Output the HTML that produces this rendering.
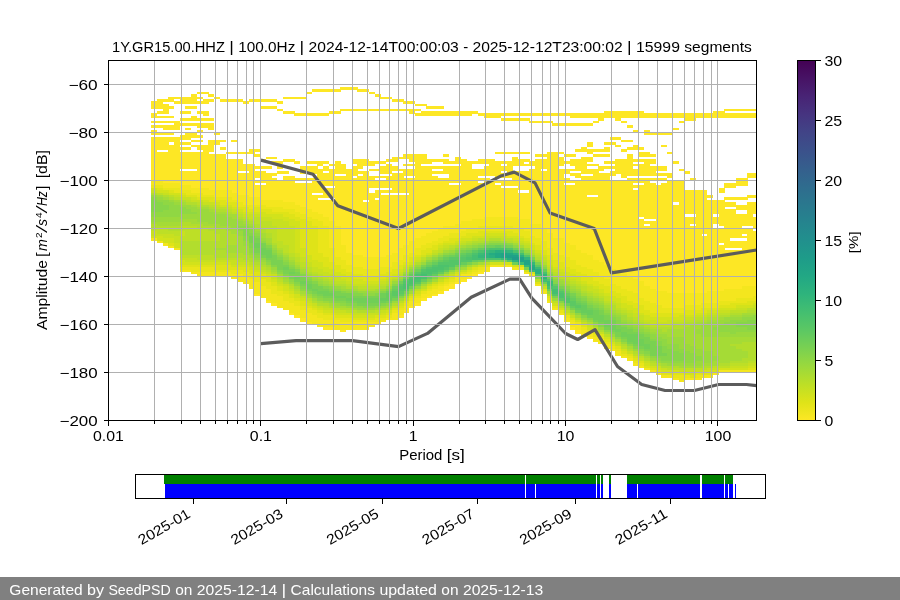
<!DOCTYPE html>
<html><head><meta charset="utf-8"><title>PPSD</title><style>html,body{margin:0;padding:0;background:#fff;overflow:hidden}svg{display:block;will-change:transform}</style></head><body>
<svg width="900" height="600" viewBox="0 0 900 600" font-family="Liberation Sans, sans-serif" font-size="14.2px" fill="#000">
<rect width="900" height="600" fill="#fff"/>
<defs><clipPath id="ax"><rect x="108.5" y="60.5" width="648" height="360"/></clipPath></defs>
<g clip-path="url(#ax)">
<g shape-rendering="crispEdges"><path fill="#fde725" d="M151.0 101.3h6.0v7.4h-6.0zM151.0 113.3h6.0v5.0h-6.0zM151.0 120.5h6.0v2.6h-6.0zM151.0 125.3h6.0v2.6h-6.0zM151.0 130.1h6.0v5.0h-6.0zM151.0 137.3h6.0v43.4h-6.0zM156.7 98.9h6.0v9.8h-6.0zM156.7 110.9h6.0v2.6h-6.0zM156.7 115.7h6.0v2.6h-6.0zM156.7 120.5h6.0v2.6h-6.0zM156.7 125.3h6.0v2.6h-6.0zM156.7 132.5h6.0v2.6h-6.0zM156.7 137.3h6.0v12.2h-6.0zM156.7 151.7h6.0v29.0h-6.0zM162.5 98.9h6.0v2.6h-6.0zM162.5 103.7h6.0v9.8h-6.0zM162.5 115.7h6.0v2.6h-6.0zM162.5 120.5h6.0v2.6h-6.0zM162.5 125.3h6.0v5.0h-6.0zM162.5 132.5h6.0v2.6h-6.0zM162.5 137.3h6.0v12.2h-6.0zM162.5 151.7h6.0v31.4h-6.0zM168.2 96.5h6.0v5.0h-6.0zM168.2 106.1h6.0v2.6h-6.0zM168.2 115.7h6.0v2.6h-6.0zM168.2 120.5h6.0v2.6h-6.0zM168.2 125.3h6.0v5.0h-6.0zM168.2 132.5h6.0v2.6h-6.0zM168.2 137.3h6.0v5.0h-6.0zM168.2 144.5h6.0v38.6h-6.0zM173.9 96.5h6.0v2.6h-6.0zM173.9 101.3h6.0v2.6h-6.0zM173.9 120.5h6.0v9.8h-6.0zM173.9 137.3h6.0v45.9h-6.0zM179.7 96.5h6.0v7.4h-6.0zM179.7 110.9h6.0v2.6h-6.0zM179.7 118.1h6.0v2.6h-6.0zM179.7 122.9h6.0v2.6h-6.0zM179.7 134.9h6.0v5.0h-6.0zM179.7 142.1h6.0v2.6h-6.0zM179.7 146.9h6.0v2.6h-6.0zM179.7 151.7h6.0v17.1h-6.0zM179.7 170.9h6.0v14.6h-6.0zM185.4 96.5h6.0v7.4h-6.0zM185.4 106.1h6.0v2.6h-6.0zM185.4 110.9h6.0v2.6h-6.0zM185.4 118.1h6.0v2.6h-6.0zM185.4 122.9h6.0v2.6h-6.0zM185.4 127.7h6.0v2.6h-6.0zM185.4 132.5h6.0v7.4h-6.0zM185.4 142.1h6.0v2.6h-6.0zM185.4 146.9h6.0v2.6h-6.0zM185.4 151.7h6.0v17.1h-6.0zM185.4 170.9h6.0v14.6h-6.0zM191.1 94.1h6.0v9.8h-6.0zM191.1 106.1h6.0v2.6h-6.0zM191.1 115.7h6.0v5.0h-6.0zM191.1 122.9h6.0v2.6h-6.0zM191.1 132.5h6.0v5.0h-6.0zM191.1 139.7h6.0v2.6h-6.0zM191.1 144.5h6.0v2.6h-6.0zM191.1 151.7h6.0v17.1h-6.0zM191.1 170.9h6.0v17.1h-6.0zM196.9 91.7h6.0v2.6h-6.0zM196.9 96.5h6.0v2.6h-6.0zM196.9 101.3h6.0v2.6h-6.0zM196.9 110.9h6.0v2.6h-6.0zM196.9 118.1h6.0v2.6h-6.0zM196.9 122.9h6.0v5.0h-6.0zM196.9 130.1h6.0v2.6h-6.0zM196.9 134.9h6.0v2.6h-6.0zM196.9 139.7h6.0v2.6h-6.0zM196.9 144.5h6.0v5.0h-6.0zM196.9 151.7h6.0v36.2h-6.0zM202.6 91.7h6.0v2.6h-6.0zM202.6 98.9h6.0v5.0h-6.0zM202.6 110.9h6.0v5.0h-6.0zM202.6 118.1h6.0v2.6h-6.0zM202.6 122.9h6.0v5.0h-6.0zM202.6 144.5h6.0v43.4h-6.0zM208.3 94.1h6.0v2.6h-6.0zM208.3 98.9h6.0v2.6h-6.0zM208.3 118.1h6.0v2.6h-6.0zM208.3 122.9h6.0v7.4h-6.0zM208.3 139.7h6.0v12.2h-6.0zM208.3 154.1h6.0v36.2h-6.0zM214.1 96.5h6.0v2.6h-6.0zM214.1 132.5h6.0v2.6h-6.0zM214.1 139.7h6.0v5.0h-6.0zM214.1 154.1h6.0v36.2h-6.0zM219.8 98.9h6.0v2.6h-6.0zM219.8 139.7h6.0v2.6h-6.0zM219.8 146.9h6.0v2.6h-6.0zM219.8 154.1h6.0v36.2h-6.0zM225.5 98.9h6.0v2.6h-6.0zM225.5 151.7h6.0v2.6h-6.0zM225.5 158.9h6.0v31.4h-6.0zM231.3 98.9h6.0v2.6h-6.0zM231.3 139.7h6.0v2.6h-6.0zM231.3 151.7h6.0v2.6h-6.0zM231.3 158.9h6.0v33.9h-6.0zM237.0 98.9h6.0v2.6h-6.0zM237.0 151.7h6.0v2.6h-6.0zM237.0 158.9h6.0v12.2h-6.0zM237.0 173.3h6.0v21.8h-6.0zM242.7 101.3h6.0v2.6h-6.0zM242.7 151.7h6.0v2.6h-6.0zM242.7 163.7h6.0v7.4h-6.0zM242.7 173.3h6.0v21.8h-6.0zM248.5 98.9h6.0v2.6h-6.0zM248.5 149.3h6.0v5.0h-6.0zM248.5 163.7h6.0v33.9h-6.0zM254.2 98.9h6.0v2.6h-6.0zM254.2 149.3h6.0v2.6h-6.0zM254.2 154.1h6.0v2.6h-6.0zM254.2 166.1h6.0v2.6h-6.0zM254.2 170.9h6.0v7.4h-6.0zM254.2 180.5h6.0v2.6h-6.0zM254.2 185.3h6.0v12.2h-6.0zM254.2 293.3h6.0v2.6h-6.0zM259.9 98.9h6.0v2.6h-6.0zM259.9 106.1h6.0v2.6h-6.0zM259.9 158.9h6.0v2.6h-6.0zM259.9 166.1h6.0v2.6h-6.0zM259.9 170.9h6.0v12.2h-6.0zM259.9 185.3h6.0v14.6h-6.0zM265.7 98.9h6.0v2.6h-6.0zM265.7 106.1h6.0v2.6h-6.0zM265.7 156.5h6.0v2.6h-6.0zM265.7 166.1h6.0v2.6h-6.0zM265.7 173.3h6.0v26.6h-6.0zM265.7 300.5h6.0v2.6h-6.0zM271.4 98.9h6.0v2.6h-6.0zM271.4 106.1h6.0v2.6h-6.0zM271.4 156.5h6.0v2.6h-6.0zM271.4 161.3h6.0v2.6h-6.0zM271.4 173.3h6.0v2.6h-6.0zM271.4 178.1h6.0v21.8h-6.0zM271.4 302.9h6.0v2.6h-6.0zM277.1 101.3h6.0v2.6h-6.0zM277.1 108.5h6.0v2.6h-6.0zM277.1 161.3h6.0v2.6h-6.0zM277.1 166.1h6.0v2.6h-6.0zM277.1 170.9h6.0v2.6h-6.0zM277.1 180.5h6.0v19.4h-6.0zM282.9 96.5h6.0v2.6h-6.0zM282.9 110.9h6.0v2.6h-6.0zM282.9 158.9h6.0v2.6h-6.0zM282.9 170.9h6.0v2.6h-6.0zM282.9 175.7h6.0v26.6h-6.0zM288.6 96.5h6.0v2.6h-6.0zM288.6 110.9h6.0v2.6h-6.0zM288.6 158.9h6.0v2.6h-6.0zM288.6 175.7h6.0v26.6h-6.0zM288.6 312.5h6.0v2.6h-6.0zM294.3 96.5h6.0v2.6h-6.0zM294.3 113.3h6.0v2.6h-6.0zM294.3 161.3h6.0v2.6h-6.0zM294.3 178.1h6.0v2.6h-6.0zM294.3 182.9h6.0v21.8h-6.0zM294.3 314.9h6.0v2.6h-6.0zM300.1 96.5h6.0v2.6h-6.0zM300.1 113.3h6.0v2.6h-6.0zM300.1 166.1h6.0v7.4h-6.0zM300.1 178.1h6.0v2.6h-6.0zM300.1 182.9h6.0v24.2h-6.0zM300.1 317.3h6.0v5.0h-6.0zM305.8 91.7h6.0v2.6h-6.0zM305.8 113.3h6.0v2.6h-6.0zM305.8 161.3h6.0v2.6h-6.0zM305.8 166.1h6.0v7.4h-6.0zM305.8 178.1h6.0v2.6h-6.0zM305.8 182.9h6.0v26.6h-6.0zM305.8 322.1h6.0v2.6h-6.0zM311.5 89.3h6.0v2.6h-6.0zM311.5 113.3h6.0v2.6h-6.0zM311.5 161.3h6.0v2.6h-6.0zM311.5 166.1h6.0v7.4h-6.0zM311.5 178.1h6.0v14.6h-6.0zM311.5 194.9h6.0v17.1h-6.0zM317.3 89.3h6.0v2.6h-6.0zM317.3 113.3h6.0v2.6h-6.0zM317.3 161.3h6.0v5.0h-6.0zM317.3 168.5h6.0v24.2h-6.0zM317.3 194.9h6.0v2.6h-6.0zM317.3 199.7h6.0v14.6h-6.0zM323.0 89.3h6.0v2.6h-6.0zM323.0 113.3h6.0v2.6h-6.0zM323.0 161.3h6.0v2.6h-6.0zM323.0 166.1h6.0v5.0h-6.0zM323.0 173.3h6.0v12.2h-6.0zM323.0 187.7h6.0v9.8h-6.0zM323.0 199.7h6.0v17.1h-6.0zM323.0 326.9h6.0v2.6h-6.0zM328.7 89.3h6.0v2.6h-6.0zM328.7 110.9h6.0v2.6h-6.0zM328.7 163.7h6.0v2.6h-6.0zM328.7 168.5h6.0v17.1h-6.0zM328.7 187.7h6.0v9.8h-6.0zM328.7 199.7h6.0v21.8h-6.0zM328.7 326.9h6.0v2.6h-6.0zM334.5 89.3h6.0v2.6h-6.0zM334.5 110.9h6.0v2.6h-6.0zM334.5 161.3h6.0v12.2h-6.0zM334.5 175.7h6.0v50.6h-6.0zM340.2 86.9h6.0v2.6h-6.0zM340.2 108.5h6.0v2.6h-6.0zM340.2 163.7h6.0v9.8h-6.0zM340.2 175.7h6.0v69.8h-6.0zM340.2 329.3h6.0v2.6h-6.0zM345.9 86.9h6.0v2.6h-6.0zM345.9 108.5h6.0v2.6h-6.0zM345.9 168.5h6.0v84.2h-6.0zM351.7 86.9h6.0v2.6h-6.0zM351.7 108.5h6.0v2.6h-6.0zM351.7 158.9h6.0v5.0h-6.0zM351.7 166.1h6.0v9.8h-6.0zM351.7 178.1h6.0v77.0h-6.0zM357.4 89.3h6.0v2.6h-6.0zM357.4 108.5h6.0v2.6h-6.0zM357.4 158.9h6.0v9.8h-6.0zM357.4 170.9h6.0v2.6h-6.0zM357.4 175.7h6.0v79.5h-6.0zM363.1 89.3h6.0v2.6h-6.0zM363.1 108.5h6.0v2.6h-6.0zM363.1 158.9h6.0v7.4h-6.0zM363.1 170.9h6.0v29.0h-6.0zM363.1 202.1h6.0v55.4h-6.0zM368.9 91.7h6.0v2.6h-6.0zM368.9 108.5h6.0v2.6h-6.0zM368.9 161.3h6.0v5.0h-6.0zM368.9 168.5h6.0v2.6h-6.0zM368.9 175.7h6.0v12.2h-6.0zM368.9 192.5h6.0v65.0h-6.0zM374.6 94.1h6.0v2.6h-6.0zM374.6 108.5h6.0v2.6h-6.0zM374.6 161.3h6.0v2.6h-6.0zM374.6 168.5h6.0v2.6h-6.0zM374.6 175.7h6.0v2.6h-6.0zM374.6 180.5h6.0v7.4h-6.0zM374.6 190.1h6.0v7.4h-6.0zM374.6 199.7h6.0v57.8h-6.0zM380.3 96.5h6.0v2.6h-6.0zM380.3 108.5h6.0v2.6h-6.0zM380.3 161.3h6.0v2.6h-6.0zM380.3 166.1h6.0v7.4h-6.0zM380.3 175.7h6.0v2.6h-6.0zM380.3 180.5h6.0v7.4h-6.0zM380.3 190.1h6.0v2.6h-6.0zM380.3 194.9h6.0v62.6h-6.0zM386.1 96.5h6.0v2.6h-6.0zM386.1 108.5h6.0v2.6h-6.0zM386.1 158.9h6.0v2.6h-6.0zM386.1 163.7h6.0v9.8h-6.0zM386.1 175.7h6.0v12.2h-6.0zM386.1 190.1h6.0v2.6h-6.0zM386.1 194.9h6.0v60.2h-6.0zM391.8 98.9h6.0v2.6h-6.0zM391.8 108.5h6.0v2.6h-6.0zM391.8 156.5h6.0v5.0h-6.0zM391.8 166.1h6.0v5.0h-6.0zM391.8 173.3h6.0v19.4h-6.0zM391.8 194.9h6.0v57.8h-6.0zM397.5 98.9h6.0v2.6h-6.0zM397.5 108.5h6.0v2.6h-6.0zM397.5 156.5h6.0v2.6h-6.0zM397.5 168.5h6.0v2.6h-6.0zM397.5 173.3h6.0v19.4h-6.0zM397.5 194.9h6.0v53.0h-6.0zM397.5 314.9h6.0v2.6h-6.0zM403.3 101.3h6.0v2.6h-6.0zM403.3 108.5h6.0v2.6h-6.0zM403.3 154.1h6.0v5.0h-6.0zM403.3 163.7h6.0v2.6h-6.0zM403.3 168.5h6.0v7.4h-6.0zM403.3 178.1h6.0v14.6h-6.0zM403.3 194.9h6.0v50.6h-6.0zM403.3 310.1h6.0v2.6h-6.0zM409.0 101.3h6.0v2.6h-6.0zM409.0 108.5h6.0v5.0h-6.0zM409.0 154.1h6.0v7.4h-6.0zM409.0 163.7h6.0v2.6h-6.0zM409.0 168.5h6.0v7.4h-6.0zM409.0 178.1h6.0v62.6h-6.0zM409.0 305.3h6.0v2.6h-6.0zM414.7 103.7h6.0v2.6h-6.0zM414.7 108.5h6.0v2.6h-6.0zM414.7 113.3h6.0v2.6h-6.0zM414.7 154.1h6.0v84.2h-6.0zM414.7 302.9h6.0v2.6h-6.0zM420.5 103.7h6.0v2.6h-6.0zM420.5 110.9h6.0v5.0h-6.0zM420.5 154.1h6.0v9.8h-6.0zM420.5 166.1h6.0v69.8h-6.0zM420.5 298.1h6.0v2.6h-6.0zM426.2 106.1h6.0v2.6h-6.0zM426.2 110.9h6.0v5.0h-6.0zM426.2 158.9h6.0v5.0h-6.0zM426.2 166.1h6.0v67.5h-6.0zM426.2 295.7h6.0v2.6h-6.0zM431.9 106.1h6.0v2.6h-6.0zM431.9 110.9h6.0v5.0h-6.0zM431.9 158.9h6.0v2.6h-6.0zM431.9 166.1h6.0v2.6h-6.0zM431.9 170.9h6.0v2.6h-6.0zM431.9 175.7h6.0v55.4h-6.0zM431.9 293.3h6.0v2.6h-6.0zM437.7 106.1h6.0v2.6h-6.0zM437.7 110.9h6.0v5.0h-6.0zM437.7 158.9h6.0v2.6h-6.0zM437.7 166.1h6.0v2.6h-6.0zM437.7 170.9h6.0v2.6h-6.0zM437.7 178.1h6.0v50.6h-6.0zM437.7 290.9h6.0v2.6h-6.0zM443.4 110.9h6.0v5.0h-6.0zM443.4 154.1h6.0v2.6h-6.0zM443.4 158.9h6.0v5.0h-6.0zM443.4 166.1h6.0v7.4h-6.0zM443.4 178.1h6.0v48.2h-6.0zM443.4 286.1h6.0v5.0h-6.0zM449.1 110.9h6.0v5.0h-6.0zM449.1 161.3h6.0v2.6h-6.0zM449.1 166.1h6.0v17.1h-6.0zM449.1 185.3h6.0v41.0h-6.0zM449.1 283.7h6.0v5.0h-6.0zM454.9 110.9h6.0v5.0h-6.0zM454.9 156.5h6.0v7.4h-6.0zM454.9 166.1h6.0v17.1h-6.0zM454.9 185.3h6.0v38.6h-6.0zM454.9 281.3h6.0v2.6h-6.0zM460.6 110.9h6.0v5.0h-6.0zM460.6 158.9h6.0v62.6h-6.0zM460.6 278.9h6.0v2.6h-6.0zM466.3 110.9h6.0v5.0h-6.0zM466.3 161.3h6.0v60.2h-6.0zM466.3 276.5h6.0v2.6h-6.0zM472.1 110.9h6.0v2.6h-6.0zM472.1 161.3h6.0v2.6h-6.0zM472.1 168.5h6.0v50.6h-6.0zM472.1 274.1h6.0v2.6h-6.0zM477.8 113.3h6.0v2.6h-6.0zM477.8 158.9h6.0v5.0h-6.0zM477.8 168.5h6.0v7.4h-6.0zM477.8 178.1h6.0v2.6h-6.0zM477.8 182.9h6.0v36.2h-6.0zM477.8 271.7h6.0v2.6h-6.0zM483.5 113.3h6.0v5.0h-6.0zM483.5 158.9h6.0v5.0h-6.0zM483.5 166.1h6.0v9.8h-6.0zM483.5 178.1h6.0v38.6h-6.0zM489.3 113.3h6.0v5.0h-6.0zM489.3 158.9h6.0v17.1h-6.0zM489.3 180.5h6.0v36.2h-6.0zM495.0 113.3h6.0v5.0h-6.0zM495.0 151.7h6.0v2.6h-6.0zM495.0 161.3h6.0v17.1h-6.0zM495.0 180.5h6.0v2.6h-6.0zM495.0 185.3h6.0v31.4h-6.0zM500.7 113.3h6.0v2.6h-6.0zM500.7 118.1h6.0v2.6h-6.0zM500.7 151.7h6.0v2.6h-6.0zM500.7 161.3h6.0v2.6h-6.0zM500.7 166.1h6.0v5.0h-6.0zM500.7 173.3h6.0v5.0h-6.0zM500.7 180.5h6.0v5.0h-6.0zM500.7 187.7h6.0v29.0h-6.0zM506.5 113.3h6.0v2.6h-6.0zM506.5 118.1h6.0v2.6h-6.0zM506.5 151.7h6.0v2.6h-6.0zM506.5 161.3h6.0v17.1h-6.0zM506.5 180.5h6.0v5.0h-6.0zM506.5 187.7h6.0v29.0h-6.0zM512.2 113.3h6.0v2.6h-6.0zM512.2 118.1h6.0v2.6h-6.0zM512.2 151.7h6.0v2.6h-6.0zM512.2 156.5h6.0v9.8h-6.0zM512.2 170.9h6.0v14.6h-6.0zM512.2 187.7h6.0v29.0h-6.0zM517.9 113.3h6.0v2.6h-6.0zM517.9 118.1h6.0v2.6h-6.0zM517.9 151.7h6.0v2.6h-6.0zM517.9 158.9h6.0v7.4h-6.0zM517.9 170.9h6.0v19.4h-6.0zM517.9 192.5h6.0v26.6h-6.0zM523.7 113.3h6.0v2.6h-6.0zM523.7 118.1h6.0v2.6h-6.0zM523.7 151.7h6.0v2.6h-6.0zM523.7 158.9h6.0v2.6h-6.0zM523.7 163.7h6.0v2.6h-6.0zM523.7 170.9h6.0v19.4h-6.0zM523.7 192.5h6.0v26.6h-6.0zM529.4 113.3h6.0v2.6h-6.0zM529.4 120.5h6.0v2.6h-6.0zM529.4 161.3h6.0v5.0h-6.0zM529.4 168.5h6.0v55.4h-6.0zM535.1 113.3h6.0v2.6h-6.0zM535.1 120.5h6.0v2.6h-6.0zM535.1 154.1h6.0v2.6h-6.0zM535.1 158.9h6.0v65.0h-6.0zM540.9 113.3h6.0v2.6h-6.0zM540.9 120.5h6.0v2.6h-6.0zM540.9 154.1h6.0v2.6h-6.0zM540.9 158.9h6.0v9.8h-6.0zM540.9 170.9h6.0v57.8h-6.0zM546.6 113.3h6.0v2.6h-6.0zM546.6 120.5h6.0v2.6h-6.0zM546.6 151.7h6.0v81.8h-6.0zM552.3 113.3h6.0v2.6h-6.0zM552.3 122.9h6.0v2.6h-6.0zM552.3 151.7h6.0v86.6h-6.0zM558.1 113.3h6.0v2.6h-6.0zM558.1 122.9h6.0v2.6h-6.0zM558.1 151.7h6.0v2.6h-6.0zM558.1 156.5h6.0v9.8h-6.0zM558.1 168.5h6.0v69.8h-6.0zM563.8 113.3h6.0v2.6h-6.0zM563.8 122.9h6.0v2.6h-6.0zM563.8 154.1h6.0v2.6h-6.0zM563.8 161.3h6.0v2.6h-6.0zM563.8 168.5h6.0v5.0h-6.0zM563.8 178.1h6.0v5.0h-6.0zM563.8 185.3h6.0v57.8h-6.0zM569.5 113.3h6.0v5.0h-6.0zM569.5 122.9h6.0v2.6h-6.0zM569.5 154.1h6.0v2.6h-6.0zM569.5 158.9h6.0v7.4h-6.0zM569.5 168.5h6.0v2.6h-6.0zM569.5 173.3h6.0v2.6h-6.0zM569.5 180.5h6.0v2.6h-6.0zM569.5 185.3h6.0v60.2h-6.0zM569.5 326.9h6.0v2.6h-6.0zM575.3 113.3h6.0v5.0h-6.0zM575.3 122.9h6.0v2.6h-6.0zM575.3 149.3h6.0v2.6h-6.0zM575.3 158.9h6.0v12.2h-6.0zM575.3 173.3h6.0v5.0h-6.0zM575.3 180.5h6.0v69.8h-6.0zM575.3 329.3h6.0v5.0h-6.0zM581.0 113.3h6.0v5.0h-6.0zM581.0 122.9h6.0v2.6h-6.0zM581.0 146.9h6.0v5.0h-6.0zM581.0 156.5h6.0v17.1h-6.0zM581.0 175.7h6.0v77.0h-6.0zM581.0 334.1h6.0v2.6h-6.0zM586.7 113.3h6.0v5.0h-6.0zM586.7 122.9h6.0v2.6h-6.0zM586.7 142.1h6.0v5.0h-6.0zM586.7 149.3h6.0v5.0h-6.0zM586.7 156.5h6.0v5.0h-6.0zM586.7 163.7h6.0v2.6h-6.0zM586.7 168.5h6.0v5.0h-6.0zM586.7 175.7h6.0v19.4h-6.0zM586.7 197.3h6.0v57.8h-6.0zM586.7 336.5h6.0v2.6h-6.0zM592.5 113.3h6.0v5.0h-6.0zM592.5 120.5h6.0v2.6h-6.0zM592.5 149.3h6.0v2.6h-6.0zM592.5 154.1h6.0v2.6h-6.0zM592.5 163.7h6.0v2.6h-6.0zM592.5 168.5h6.0v26.6h-6.0zM592.5 197.3h6.0v62.6h-6.0zM598.2 113.3h6.0v7.4h-6.0zM598.2 149.3h6.0v2.6h-6.0zM598.2 154.1h6.0v2.6h-6.0zM598.2 166.1h6.0v5.0h-6.0zM598.2 173.3h6.0v89.0h-6.0zM603.9 110.9h6.0v7.4h-6.0zM603.9 142.1h6.0v2.6h-6.0zM603.9 146.9h6.0v5.0h-6.0zM603.9 154.1h6.0v2.6h-6.0zM603.9 161.3h6.0v2.6h-6.0zM603.9 166.1h6.0v2.6h-6.0zM603.9 173.3h6.0v91.5h-6.0zM609.7 110.9h6.0v7.4h-6.0zM609.7 137.3h6.0v2.6h-6.0zM609.7 142.1h6.0v2.6h-6.0zM609.7 161.3h6.0v2.6h-6.0zM609.7 166.1h6.0v2.6h-6.0zM609.7 170.9h6.0v5.0h-6.0zM609.7 180.5h6.0v89.0h-6.0zM615.4 110.9h6.0v9.8h-6.0zM615.4 137.3h6.0v2.6h-6.0zM615.4 144.5h6.0v2.6h-6.0zM615.4 158.9h6.0v14.6h-6.0zM615.4 180.5h6.0v91.5h-6.0zM621.1 110.9h6.0v7.4h-6.0zM621.1 120.5h6.0v2.6h-6.0zM621.1 139.7h6.0v2.6h-6.0zM621.1 149.3h6.0v2.6h-6.0zM621.1 158.9h6.0v19.4h-6.0zM621.1 180.5h6.0v93.8h-6.0zM626.9 110.9h6.0v7.4h-6.0zM626.9 125.3h6.0v2.6h-6.0zM626.9 139.7h6.0v2.6h-6.0zM626.9 146.9h6.0v2.6h-6.0zM626.9 154.1h6.0v21.8h-6.0zM626.9 178.1h6.0v98.6h-6.0zM632.6 110.9h6.0v7.4h-6.0zM632.6 130.1h6.0v2.6h-6.0zM632.6 144.5h6.0v5.0h-6.0zM632.6 158.9h6.0v2.6h-6.0zM632.6 163.7h6.0v2.6h-6.0zM632.6 168.5h6.0v7.4h-6.0zM632.6 178.1h6.0v5.0h-6.0zM632.6 185.3h6.0v2.6h-6.0zM632.6 190.1h6.0v89.0h-6.0zM638.3 110.9h6.0v7.4h-6.0zM638.3 146.9h6.0v2.6h-6.0zM638.3 151.7h6.0v5.0h-6.0zM638.3 158.9h6.0v2.6h-6.0zM638.3 163.7h6.0v12.2h-6.0zM638.3 178.1h6.0v5.0h-6.0zM638.3 185.3h6.0v31.4h-6.0zM638.3 218.9h6.0v62.6h-6.0zM644.1 113.3h6.0v5.0h-6.0zM644.1 130.1h6.0v5.0h-6.0zM644.1 151.7h6.0v5.0h-6.0zM644.1 158.9h6.0v17.1h-6.0zM644.1 178.1h6.0v41.0h-6.0zM644.1 221.3h6.0v2.6h-6.0zM644.1 226.1h6.0v60.2h-6.0zM649.8 113.3h6.0v5.0h-6.0zM649.8 132.5h6.0v2.6h-6.0zM649.8 154.1h6.0v2.6h-6.0zM649.8 158.9h6.0v5.0h-6.0zM649.8 166.1h6.0v9.8h-6.0zM649.8 178.1h6.0v2.6h-6.0zM649.8 182.9h6.0v36.2h-6.0zM649.8 221.3h6.0v67.5h-6.0zM655.5 113.3h6.0v5.0h-6.0zM655.5 132.5h6.0v2.6h-6.0zM655.5 166.1h6.0v5.0h-6.0zM655.5 173.3h6.0v2.6h-6.0zM655.5 178.1h6.0v2.6h-6.0zM655.5 185.3h6.0v105.8h-6.0zM661.3 113.3h6.0v5.0h-6.0zM661.3 132.5h6.0v2.6h-6.0zM661.3 144.5h6.0v2.6h-6.0zM661.3 166.1h6.0v5.0h-6.0zM661.3 173.3h6.0v2.6h-6.0zM661.3 178.1h6.0v2.6h-6.0zM661.3 182.9h6.0v108.2h-6.0zM667.0 113.3h6.0v5.0h-6.0zM667.0 132.5h6.0v2.6h-6.0zM667.0 151.7h6.0v2.6h-6.0zM667.0 173.3h6.0v5.0h-6.0zM667.0 180.5h6.0v113.0h-6.0zM672.7 113.3h6.0v5.0h-6.0zM672.7 127.7h6.0v2.6h-6.0zM672.7 161.3h6.0v2.6h-6.0zM672.7 180.5h6.0v21.8h-6.0zM672.7 204.5h6.0v89.0h-6.0zM678.5 113.3h6.0v5.0h-6.0zM678.5 120.5h6.0v2.6h-6.0zM678.5 168.5h6.0v2.6h-6.0zM678.5 180.5h6.0v113.0h-6.0zM684.2 113.3h6.0v7.4h-6.0zM684.2 170.9h6.0v2.6h-6.0zM684.2 190.1h6.0v24.2h-6.0zM684.2 216.5h6.0v77.0h-6.0zM689.9 113.3h6.0v7.4h-6.0zM689.9 178.1h6.0v2.6h-6.0zM689.9 190.1h6.0v24.2h-6.0zM689.9 216.5h6.0v7.4h-6.0zM689.9 226.1h6.0v67.5h-6.0zM695.7 113.3h6.0v5.0h-6.0zM695.7 190.1h6.0v103.5h-6.0zM701.4 113.3h6.0v5.0h-6.0zM701.4 190.1h6.0v43.4h-6.0zM701.4 235.7h6.0v57.8h-6.0zM707.1 113.3h6.0v5.0h-6.0zM707.1 194.9h6.0v2.6h-6.0zM707.1 199.7h6.0v91.5h-6.0zM712.9 110.9h6.0v7.4h-6.0zM712.9 199.7h6.0v14.6h-6.0zM712.9 216.5h6.0v7.4h-6.0zM712.9 228.5h6.0v62.6h-6.0zM718.6 110.9h6.0v7.4h-6.0zM718.6 187.7h6.0v5.0h-6.0zM718.6 199.7h6.0v26.6h-6.0zM718.6 228.5h6.0v14.6h-6.0zM718.6 245.3h6.0v45.9h-6.0zM724.3 108.5h6.0v2.6h-6.0zM724.3 113.3h6.0v5.0h-6.0zM724.3 182.9h6.0v5.0h-6.0zM724.3 197.3h6.0v2.6h-6.0zM724.3 202.1h6.0v5.0h-6.0zM724.3 209.3h6.0v38.6h-6.0zM724.3 250.1h6.0v38.6h-6.0zM730.1 108.5h6.0v2.6h-6.0zM730.1 113.3h6.0v5.0h-6.0zM730.1 182.9h6.0v5.0h-6.0zM730.1 197.3h6.0v2.6h-6.0zM730.1 202.1h6.0v5.0h-6.0zM730.1 209.3h6.0v29.0h-6.0zM730.1 240.5h6.0v7.4h-6.0zM730.1 250.1h6.0v38.6h-6.0zM735.8 108.5h6.0v2.6h-6.0zM735.8 113.3h6.0v5.0h-6.0zM735.8 178.1h6.0v7.4h-6.0zM735.8 197.3h6.0v2.6h-6.0zM735.8 204.5h6.0v5.0h-6.0zM735.8 214.1h6.0v24.2h-6.0zM735.8 240.5h6.0v7.4h-6.0zM735.8 250.1h6.0v38.6h-6.0zM741.5 108.5h6.0v2.6h-6.0zM741.5 113.3h6.0v5.0h-6.0zM741.5 178.1h6.0v7.4h-6.0zM741.5 197.3h6.0v2.6h-6.0zM741.5 204.5h6.0v5.0h-6.0zM741.5 214.1h6.0v12.2h-6.0zM741.5 228.5h6.0v5.0h-6.0zM741.5 235.7h6.0v2.6h-6.0zM741.5 240.5h6.0v45.9h-6.0zM747.3 108.5h6.0v2.6h-6.0zM747.3 113.3h6.0v5.0h-6.0zM747.3 173.3h6.0v5.0h-6.0zM747.3 194.9h6.0v2.6h-6.0zM747.3 202.1h6.0v24.2h-6.0zM747.3 228.5h6.0v57.8h-6.0zM753.0 108.5h3.7v2.6h-3.7zM753.0 113.3h3.7v5.0h-3.7zM753.0 173.3h3.7v5.0h-3.7zM753.0 194.9h3.7v2.6h-3.7zM753.0 202.1h3.7v12.2h-3.7zM753.0 216.5h3.7v12.2h-3.7zM753.0 230.9h3.7v55.4h-3.7z"/>
<path fill="#f4e61e" d="M151.0 180.5h6.0v5.0h-6.0zM151.0 238.1h6.0v2.6h-6.0zM156.7 180.5h6.0v5.0h-6.0zM156.7 240.5h6.0v2.6h-6.0zM162.5 182.9h6.0v5.0h-6.0zM162.5 242.9h6.0v2.6h-6.0zM168.2 182.9h6.0v5.0h-6.0zM168.2 245.3h6.0v2.6h-6.0zM173.9 182.9h6.0v5.0h-6.0zM173.9 247.7h6.0v2.6h-6.0zM179.7 185.3h6.0v5.0h-6.0zM179.7 269.3h6.0v2.6h-6.0zM185.4 185.3h6.0v5.0h-6.0zM185.4 269.3h6.0v2.6h-6.0zM191.1 187.7h6.0v5.0h-6.0zM191.1 271.7h6.0v2.6h-6.0zM196.9 187.7h6.0v5.0h-6.0zM196.9 271.7h6.0v5.0h-6.0zM202.6 187.7h6.0v7.4h-6.0zM202.6 271.7h6.0v5.0h-6.0zM208.3 190.1h6.0v5.0h-6.0zM208.3 271.7h6.0v5.0h-6.0zM214.1 190.1h6.0v7.4h-6.0zM214.1 271.7h6.0v5.0h-6.0zM219.8 190.1h6.0v7.4h-6.0zM219.8 271.7h6.0v5.0h-6.0zM225.5 190.1h6.0v7.4h-6.0zM225.5 271.7h6.0v5.0h-6.0zM231.3 192.5h6.0v7.4h-6.0zM231.3 274.1h6.0v5.0h-6.0zM237.0 194.9h6.0v7.4h-6.0zM237.0 274.1h6.0v7.4h-6.0zM242.7 194.9h6.0v9.8h-6.0zM242.7 276.5h6.0v7.4h-6.0zM248.5 197.3h6.0v7.4h-6.0zM248.5 278.9h6.0v9.8h-6.0zM254.2 197.3h6.0v7.4h-6.0zM254.2 281.3h6.0v12.2h-6.0zM259.9 199.7h6.0v5.0h-6.0zM259.9 286.1h6.0v12.2h-6.0zM265.7 199.7h6.0v7.4h-6.0zM265.7 288.5h6.0v12.2h-6.0zM271.4 199.7h6.0v7.4h-6.0zM271.4 293.3h6.0v9.8h-6.0zM277.1 199.7h6.0v7.4h-6.0zM277.1 295.7h6.0v12.2h-6.0zM282.9 202.1h6.0v7.4h-6.0zM282.9 300.5h6.0v9.8h-6.0zM288.6 202.1h6.0v7.4h-6.0zM288.6 302.9h6.0v9.8h-6.0zM294.3 204.5h6.0v7.4h-6.0zM294.3 305.3h6.0v9.8h-6.0zM300.1 206.9h6.0v7.4h-6.0zM300.1 310.1h6.0v7.4h-6.0zM305.8 209.3h6.0v7.4h-6.0zM305.8 312.5h6.0v9.8h-6.0zM311.5 211.7h6.0v7.4h-6.0zM311.5 314.9h6.0v9.8h-6.0zM317.3 214.1h6.0v7.4h-6.0zM317.3 317.3h6.0v9.8h-6.0zM323.0 216.5h6.0v9.8h-6.0zM323.0 319.7h6.0v7.4h-6.0zM328.7 221.3h6.0v26.6h-6.0zM328.7 319.7h6.0v7.4h-6.0zM334.5 226.1h6.0v31.4h-6.0zM334.5 319.7h6.0v9.8h-6.0zM340.2 245.3h6.0v14.6h-6.0zM340.2 322.1h6.0v7.4h-6.0zM345.9 252.5h6.0v12.2h-6.0zM345.9 322.1h6.0v7.4h-6.0zM351.7 254.9h6.0v12.2h-6.0zM351.7 322.1h6.0v7.4h-6.0zM357.4 254.9h6.0v12.2h-6.0zM357.4 322.1h6.0v7.4h-6.0zM363.1 257.3h6.0v12.2h-6.0zM363.1 322.1h6.0v7.4h-6.0zM368.9 257.3h6.0v12.2h-6.0zM368.9 322.1h6.0v5.0h-6.0zM374.6 257.3h6.0v12.2h-6.0zM374.6 322.1h6.0v2.6h-6.0zM380.3 257.3h6.0v9.8h-6.0zM380.3 319.7h6.0v2.6h-6.0zM386.1 254.9h6.0v12.2h-6.0zM386.1 317.3h6.0v2.6h-6.0zM391.8 252.5h6.0v9.8h-6.0zM391.8 312.5h6.0v7.4h-6.0zM397.5 247.7h6.0v12.2h-6.0zM397.5 310.1h6.0v5.0h-6.0zM403.3 245.3h6.0v9.8h-6.0zM403.3 305.3h6.0v5.0h-6.0zM409.0 240.5h6.0v12.2h-6.0zM409.0 300.5h6.0v5.0h-6.0zM414.7 238.1h6.0v9.8h-6.0zM414.7 298.1h6.0v5.0h-6.0zM420.5 235.7h6.0v9.8h-6.0zM420.5 293.3h6.0v5.0h-6.0zM426.2 233.3h6.0v9.8h-6.0zM426.2 290.9h6.0v5.0h-6.0zM431.9 230.9h6.0v9.8h-6.0zM431.9 288.5h6.0v5.0h-6.0zM437.7 228.5h6.0v9.8h-6.0zM437.7 286.1h6.0v5.0h-6.0zM443.4 226.1h6.0v9.8h-6.0zM443.4 283.7h6.0v2.6h-6.0zM449.1 226.1h6.0v7.4h-6.0zM449.1 281.3h6.0v2.6h-6.0zM454.9 223.7h6.0v9.8h-6.0zM454.9 276.5h6.0v5.0h-6.0zM460.6 221.3h6.0v9.8h-6.0zM460.6 274.1h6.0v5.0h-6.0zM466.3 221.3h6.0v7.4h-6.0zM466.3 274.1h6.0v2.6h-6.0zM472.1 218.9h6.0v9.8h-6.0zM472.1 271.7h6.0v2.6h-6.0zM477.8 218.9h6.0v7.4h-6.0zM477.8 269.3h6.0v2.6h-6.0zM483.5 216.5h6.0v9.8h-6.0zM483.5 266.9h6.0v5.0h-6.0zM489.3 216.5h6.0v9.8h-6.0zM489.3 264.5h6.0v2.6h-6.0zM495.0 216.5h6.0v9.8h-6.0zM495.0 264.5h6.0v2.6h-6.0zM500.7 216.5h6.0v9.8h-6.0zM500.7 264.5h6.0v2.6h-6.0zM506.5 216.5h6.0v9.8h-6.0zM506.5 264.5h6.0v2.6h-6.0zM512.2 216.5h6.0v12.2h-6.0zM512.2 266.9h6.0v2.6h-6.0zM517.9 218.9h6.0v9.8h-6.0zM517.9 266.9h6.0v2.6h-6.0zM523.7 218.9h6.0v12.2h-6.0zM523.7 271.7h6.0v2.6h-6.0zM529.4 223.7h6.0v12.2h-6.0zM529.4 274.1h6.0v2.6h-6.0zM535.1 223.7h6.0v14.6h-6.0zM535.1 283.7h6.0v2.6h-6.0zM540.9 228.5h6.0v12.2h-6.0zM540.9 290.9h6.0v2.6h-6.0zM546.6 233.3h6.0v14.6h-6.0zM546.6 300.5h6.0v2.6h-6.0zM552.3 238.1h6.0v14.6h-6.0zM552.3 307.7h6.0v2.6h-6.0zM558.1 238.1h6.0v17.1h-6.0zM558.1 312.5h6.0v2.6h-6.0zM563.8 242.9h6.0v14.6h-6.0zM563.8 317.3h6.0v5.0h-6.0zM569.5 245.3h6.0v14.6h-6.0zM569.5 322.1h6.0v5.0h-6.0zM575.3 250.1h6.0v14.6h-6.0zM575.3 324.5h6.0v5.0h-6.0zM581.0 252.5h6.0v14.6h-6.0zM581.0 329.3h6.0v5.0h-6.0zM586.7 254.9h6.0v14.6h-6.0zM586.7 331.7h6.0v5.0h-6.0zM592.5 259.7h6.0v12.2h-6.0zM592.5 336.5h6.0v5.0h-6.0zM598.2 262.1h6.0v14.6h-6.0zM598.2 338.9h6.0v5.0h-6.0zM603.9 264.5h6.0v14.6h-6.0zM603.9 343.7h6.0v5.0h-6.0zM609.7 269.3h6.0v14.6h-6.0zM609.7 348.5h6.0v2.6h-6.0zM615.4 271.7h6.0v14.6h-6.0zM615.4 350.9h6.0v5.0h-6.0zM621.1 274.1h6.0v14.6h-6.0zM621.1 355.7h6.0v2.6h-6.0zM626.9 276.5h6.0v14.6h-6.0zM626.9 358.1h6.0v2.6h-6.0zM632.6 278.9h6.0v14.6h-6.0zM632.6 362.9h6.0v2.6h-6.0zM638.3 281.3h6.0v17.1h-6.0zM638.3 365.3h6.0v2.6h-6.0zM644.1 286.1h6.0v14.6h-6.0zM644.1 367.7h6.0v2.6h-6.0zM649.8 288.5h6.0v14.6h-6.0zM649.8 370.1h6.0v2.6h-6.0zM655.5 290.9h6.0v14.6h-6.0zM655.5 372.5h6.0v2.6h-6.0zM661.3 290.9h6.0v17.1h-6.0zM661.3 374.9h6.0v2.6h-6.0zM667.0 293.3h6.0v14.6h-6.0zM667.0 374.9h6.0v2.6h-6.0zM672.7 293.3h6.0v14.6h-6.0zM672.7 377.3h6.0v2.6h-6.0zM678.5 293.3h6.0v14.6h-6.0zM678.5 379.7h6.0v2.6h-6.0zM684.2 293.3h6.0v12.2h-6.0zM684.2 377.3h6.0v2.6h-6.0zM689.9 293.3h6.0v12.2h-6.0zM689.9 377.3h6.0v2.6h-6.0zM695.7 293.3h6.0v12.2h-6.0zM695.7 377.3h6.0v2.6h-6.0zM701.4 293.3h6.0v9.8h-6.0zM701.4 374.9h6.0v2.6h-6.0zM707.1 290.9h6.0v12.2h-6.0zM707.1 374.9h6.0v2.6h-6.0zM712.9 290.9h6.0v12.2h-6.0zM712.9 372.5h6.0v2.6h-6.0zM718.6 290.9h6.0v9.8h-6.0zM718.6 370.1h6.0v2.6h-6.0zM724.3 288.5h6.0v12.2h-6.0zM724.3 370.1h6.0v2.6h-6.0zM730.1 288.5h6.0v12.2h-6.0zM730.1 370.1h6.0v2.6h-6.0zM735.8 288.5h6.0v9.8h-6.0zM735.8 370.1h6.0v2.6h-6.0zM741.5 286.1h6.0v12.2h-6.0zM741.5 370.1h6.0v2.6h-6.0zM747.3 286.1h6.0v12.2h-6.0zM747.3 370.1h6.0v2.6h-6.0zM753.0 286.1h3.7v9.8h-3.7zM753.0 370.1h3.7v2.6h-3.7z"/>
<path fill="#eae51a" d="M151.0 185.3h6.0v2.6h-6.0zM156.7 185.3h6.0v2.6h-6.0zM162.5 187.7h6.0v2.6h-6.0zM168.2 187.7h6.0v2.6h-6.0zM173.9 187.7h6.0v5.0h-6.0zM179.7 190.1h6.0v2.6h-6.0zM179.7 266.9h6.0v2.6h-6.0zM185.4 190.1h6.0v5.0h-6.0zM185.4 266.9h6.0v2.6h-6.0zM191.1 192.5h6.0v2.6h-6.0zM191.1 266.9h6.0v5.0h-6.0zM196.9 192.5h6.0v5.0h-6.0zM196.9 266.9h6.0v5.0h-6.0zM202.6 194.9h6.0v2.6h-6.0zM202.6 266.9h6.0v5.0h-6.0zM208.3 194.9h6.0v2.6h-6.0zM208.3 266.9h6.0v5.0h-6.0zM214.1 197.3h6.0v2.6h-6.0zM214.1 269.3h6.0v2.6h-6.0zM219.8 197.3h6.0v2.6h-6.0zM219.8 269.3h6.0v2.6h-6.0zM225.5 197.3h6.0v5.0h-6.0zM225.5 269.3h6.0v2.6h-6.0zM231.3 199.7h6.0v2.6h-6.0zM231.3 269.3h6.0v5.0h-6.0zM237.0 202.1h6.0v5.0h-6.0zM237.0 269.3h6.0v5.0h-6.0zM242.7 204.5h6.0v2.6h-6.0zM242.7 271.7h6.0v5.0h-6.0zM248.5 204.5h6.0v5.0h-6.0zM248.5 274.1h6.0v5.0h-6.0zM254.2 204.5h6.0v2.6h-6.0zM254.2 276.5h6.0v5.0h-6.0zM259.9 204.5h6.0v5.0h-6.0zM259.9 278.9h6.0v7.4h-6.0zM265.7 206.9h6.0v2.6h-6.0zM265.7 281.3h6.0v7.4h-6.0zM271.4 206.9h6.0v5.0h-6.0zM271.4 286.1h6.0v7.4h-6.0zM277.1 206.9h6.0v5.0h-6.0zM277.1 290.9h6.0v5.0h-6.0zM282.9 209.3h6.0v2.6h-6.0zM282.9 293.3h6.0v7.4h-6.0zM288.6 209.3h6.0v5.0h-6.0zM288.6 298.1h6.0v5.0h-6.0zM294.3 211.7h6.0v5.0h-6.0zM294.3 300.5h6.0v5.0h-6.0zM300.1 214.1h6.0v5.0h-6.0zM300.1 305.3h6.0v5.0h-6.0zM305.8 216.5h6.0v5.0h-6.0zM305.8 307.7h6.0v5.0h-6.0zM311.5 218.9h6.0v7.4h-6.0zM311.5 310.1h6.0v5.0h-6.0zM317.3 221.3h6.0v31.4h-6.0zM317.3 312.5h6.0v5.0h-6.0zM323.0 226.1h6.0v31.4h-6.0zM323.0 314.9h6.0v5.0h-6.0zM328.7 247.7h6.0v14.6h-6.0zM328.7 314.9h6.0v5.0h-6.0zM334.5 257.3h6.0v7.4h-6.0zM334.5 317.3h6.0v2.6h-6.0zM340.2 259.7h6.0v9.8h-6.0zM340.2 317.3h6.0v5.0h-6.0zM345.9 264.5h6.0v7.4h-6.0zM345.9 317.3h6.0v5.0h-6.0zM351.7 266.9h6.0v7.4h-6.0zM351.7 319.7h6.0v2.6h-6.0zM357.4 266.9h6.0v7.4h-6.0zM357.4 319.7h6.0v2.6h-6.0zM363.1 269.3h6.0v7.4h-6.0zM363.1 319.7h6.0v2.6h-6.0zM368.9 269.3h6.0v7.4h-6.0zM368.9 319.7h6.0v2.6h-6.0zM374.6 269.3h6.0v7.4h-6.0zM374.6 317.3h6.0v5.0h-6.0zM380.3 266.9h6.0v7.4h-6.0zM380.3 317.3h6.0v2.6h-6.0zM386.1 266.9h6.0v5.0h-6.0zM386.1 314.9h6.0v2.6h-6.0zM391.8 262.1h6.0v7.4h-6.0zM391.8 310.1h6.0v2.6h-6.0zM397.5 259.7h6.0v5.0h-6.0zM397.5 307.7h6.0v2.6h-6.0zM403.3 254.9h6.0v7.4h-6.0zM403.3 302.9h6.0v2.6h-6.0zM409.0 252.5h6.0v5.0h-6.0zM409.0 298.1h6.0v2.6h-6.0zM414.7 247.7h6.0v7.4h-6.0zM414.7 295.7h6.0v2.6h-6.0zM420.5 245.3h6.0v5.0h-6.0zM420.5 290.9h6.0v2.6h-6.0zM426.2 242.9h6.0v5.0h-6.0zM426.2 288.5h6.0v2.6h-6.0zM431.9 240.5h6.0v5.0h-6.0zM431.9 286.1h6.0v2.6h-6.0zM437.7 238.1h6.0v5.0h-6.0zM437.7 283.7h6.0v2.6h-6.0zM443.4 235.7h6.0v5.0h-6.0zM443.4 281.3h6.0v2.6h-6.0zM449.1 233.3h6.0v5.0h-6.0zM449.1 278.9h6.0v2.6h-6.0zM454.9 233.3h6.0v5.0h-6.0zM460.6 230.9h6.0v5.0h-6.0zM466.3 228.5h6.0v5.0h-6.0zM466.3 271.7h6.0v2.6h-6.0zM472.1 228.5h6.0v5.0h-6.0zM472.1 269.3h6.0v2.6h-6.0zM477.8 226.1h6.0v5.0h-6.0zM477.8 266.9h6.0v2.6h-6.0zM483.5 226.1h6.0v5.0h-6.0zM489.3 226.1h6.0v5.0h-6.0zM495.0 226.1h6.0v5.0h-6.0zM500.7 226.1h6.0v5.0h-6.0zM506.5 226.1h6.0v5.0h-6.0zM512.2 228.5h6.0v5.0h-6.0zM517.9 228.5h6.0v7.4h-6.0zM523.7 230.9h6.0v7.4h-6.0zM529.4 235.7h6.0v7.4h-6.0zM535.1 238.1h6.0v7.4h-6.0zM540.9 240.5h6.0v9.8h-6.0zM540.9 288.5h6.0v2.6h-6.0zM546.6 247.7h6.0v7.4h-6.0zM546.6 298.1h6.0v2.6h-6.0zM552.3 252.5h6.0v7.4h-6.0zM552.3 305.3h6.0v2.6h-6.0zM558.1 254.9h6.0v7.4h-6.0zM558.1 310.1h6.0v2.6h-6.0zM563.8 257.3h6.0v9.8h-6.0zM563.8 314.9h6.0v2.6h-6.0zM569.5 259.7h6.0v9.8h-6.0zM569.5 319.7h6.0v2.6h-6.0zM575.3 264.5h6.0v7.4h-6.0zM575.3 322.1h6.0v2.6h-6.0zM581.0 266.9h6.0v7.4h-6.0zM581.0 326.9h6.0v2.6h-6.0zM586.7 269.3h6.0v7.4h-6.0zM586.7 329.3h6.0v2.6h-6.0zM592.5 271.7h6.0v9.8h-6.0zM592.5 334.1h6.0v2.6h-6.0zM598.2 276.5h6.0v7.4h-6.0zM598.2 336.5h6.0v2.6h-6.0zM603.9 278.9h6.0v7.4h-6.0zM603.9 341.3h6.0v2.6h-6.0zM609.7 283.7h6.0v7.4h-6.0zM609.7 346.1h6.0v2.6h-6.0zM615.4 286.1h6.0v7.4h-6.0zM615.4 348.5h6.0v2.6h-6.0zM621.1 288.5h6.0v7.4h-6.0zM621.1 353.3h6.0v2.6h-6.0zM626.9 290.9h6.0v9.8h-6.0zM626.9 355.7h6.0v2.6h-6.0zM632.6 293.3h6.0v9.8h-6.0zM632.6 360.5h6.0v2.6h-6.0zM638.3 298.1h6.0v7.4h-6.0zM638.3 362.9h6.0v2.6h-6.0zM644.1 300.5h6.0v9.8h-6.0zM649.8 302.9h6.0v9.8h-6.0zM655.5 305.3h6.0v7.4h-6.0zM661.3 307.7h6.0v5.0h-6.0zM667.0 307.7h6.0v5.0h-6.0zM672.7 307.7h6.0v5.0h-6.0zM672.7 374.9h6.0v2.6h-6.0zM678.5 307.7h6.0v5.0h-6.0zM678.5 374.9h6.0v5.0h-6.0zM684.2 305.3h6.0v5.0h-6.0zM684.2 374.9h6.0v2.6h-6.0zM689.9 305.3h6.0v5.0h-6.0zM695.7 305.3h6.0v5.0h-6.0zM695.7 374.9h6.0v2.6h-6.0zM701.4 302.9h6.0v5.0h-6.0zM707.1 302.9h6.0v5.0h-6.0zM712.9 302.9h6.0v5.0h-6.0zM718.6 300.5h6.0v5.0h-6.0zM724.3 300.5h6.0v5.0h-6.0zM730.1 300.5h6.0v2.6h-6.0zM735.8 298.1h6.0v5.0h-6.0zM741.5 298.1h6.0v5.0h-6.0zM747.3 298.1h6.0v2.6h-6.0zM753.0 295.7h3.7v5.0h-3.7z"/>
<path fill="#dfe318" d="M156.7 187.7h6.0v2.6h-6.0zM168.2 190.1h6.0v2.6h-6.0zM168.2 242.9h6.0v2.6h-6.0zM179.7 192.5h6.0v2.6h-6.0zM179.7 264.5h6.0v2.6h-6.0zM185.4 194.9h6.0v2.6h-6.0zM185.4 264.5h6.0v2.6h-6.0zM191.1 194.9h6.0v2.6h-6.0zM191.1 264.5h6.0v2.6h-6.0zM196.9 197.3h6.0v2.6h-6.0zM196.9 264.5h6.0v2.6h-6.0zM202.6 197.3h6.0v2.6h-6.0zM202.6 264.5h6.0v2.6h-6.0zM208.3 197.3h6.0v5.0h-6.0zM208.3 264.5h6.0v2.6h-6.0zM214.1 199.7h6.0v2.6h-6.0zM214.1 264.5h6.0v5.0h-6.0zM219.8 199.7h6.0v5.0h-6.0zM219.8 264.5h6.0v5.0h-6.0zM225.5 202.1h6.0v2.6h-6.0zM225.5 264.5h6.0v5.0h-6.0zM231.3 202.1h6.0v5.0h-6.0zM231.3 266.9h6.0v2.6h-6.0zM237.0 206.9h6.0v2.6h-6.0zM237.0 266.9h6.0v2.6h-6.0zM242.7 206.9h6.0v5.0h-6.0zM242.7 266.9h6.0v5.0h-6.0zM248.5 209.3h6.0v2.6h-6.0zM248.5 269.3h6.0v5.0h-6.0zM254.2 206.9h6.0v5.0h-6.0zM254.2 271.7h6.0v5.0h-6.0zM259.9 209.3h6.0v2.6h-6.0zM259.9 274.1h6.0v5.0h-6.0zM265.7 209.3h6.0v5.0h-6.0zM265.7 276.5h6.0v5.0h-6.0zM271.4 211.7h6.0v2.6h-6.0zM271.4 281.3h6.0v5.0h-6.0zM277.1 211.7h6.0v2.6h-6.0zM277.1 286.1h6.0v5.0h-6.0zM282.9 211.7h6.0v5.0h-6.0zM282.9 290.9h6.0v2.6h-6.0zM288.6 214.1h6.0v5.0h-6.0zM288.6 293.3h6.0v5.0h-6.0zM294.3 216.5h6.0v5.0h-6.0zM294.3 298.1h6.0v2.6h-6.0zM300.1 218.9h6.0v29.0h-6.0zM300.1 300.5h6.0v5.0h-6.0zM305.8 221.3h6.0v33.9h-6.0zM305.8 305.3h6.0v2.6h-6.0zM311.5 226.1h6.0v33.9h-6.0zM311.5 307.7h6.0v2.6h-6.0zM317.3 252.5h6.0v9.8h-6.0zM317.3 310.1h6.0v2.6h-6.0zM323.0 257.3h6.0v9.8h-6.0zM323.0 312.5h6.0v2.6h-6.0zM328.7 262.1h6.0v7.4h-6.0zM328.7 312.5h6.0v2.6h-6.0zM334.5 264.5h6.0v7.4h-6.0zM334.5 314.9h6.0v2.6h-6.0zM340.2 269.3h6.0v5.0h-6.0zM340.2 314.9h6.0v2.6h-6.0zM345.9 271.7h6.0v5.0h-6.0zM345.9 314.9h6.0v2.6h-6.0zM351.7 274.1h6.0v5.0h-6.0zM351.7 317.3h6.0v2.6h-6.0zM357.4 274.1h6.0v5.0h-6.0zM357.4 317.3h6.0v2.6h-6.0zM363.1 276.5h6.0v5.0h-6.0zM363.1 317.3h6.0v2.6h-6.0zM368.9 276.5h6.0v5.0h-6.0zM368.9 317.3h6.0v2.6h-6.0zM374.6 276.5h6.0v5.0h-6.0zM374.6 314.9h6.0v2.6h-6.0zM380.3 274.1h6.0v5.0h-6.0zM380.3 314.9h6.0v2.6h-6.0zM386.1 271.7h6.0v5.0h-6.0zM386.1 312.5h6.0v2.6h-6.0zM391.8 269.3h6.0v5.0h-6.0zM391.8 307.7h6.0v2.6h-6.0zM397.5 264.5h6.0v5.0h-6.0zM397.5 305.3h6.0v2.6h-6.0zM403.3 262.1h6.0v2.6h-6.0zM403.3 300.5h6.0v2.6h-6.0zM409.0 257.3h6.0v5.0h-6.0zM409.0 295.7h6.0v2.6h-6.0zM414.7 254.9h6.0v2.6h-6.0zM414.7 293.3h6.0v2.6h-6.0zM420.5 250.1h6.0v5.0h-6.0zM426.2 247.7h6.0v5.0h-6.0zM426.2 286.1h6.0v2.6h-6.0zM431.9 245.3h6.0v5.0h-6.0zM431.9 283.7h6.0v2.6h-6.0zM437.7 242.9h6.0v2.6h-6.0zM437.7 281.3h6.0v2.6h-6.0zM443.4 240.5h6.0v2.6h-6.0zM443.4 278.9h6.0v2.6h-6.0zM449.1 238.1h6.0v5.0h-6.0zM449.1 276.5h6.0v2.6h-6.0zM454.9 238.1h6.0v2.6h-6.0zM454.9 274.1h6.0v2.6h-6.0zM460.6 235.7h6.0v2.6h-6.0zM460.6 271.7h6.0v2.6h-6.0zM466.3 233.3h6.0v5.0h-6.0zM466.3 269.3h6.0v2.6h-6.0zM472.1 233.3h6.0v2.6h-6.0zM472.1 266.9h6.0v2.6h-6.0zM477.8 230.9h6.0v5.0h-6.0zM483.5 230.9h6.0v2.6h-6.0zM483.5 264.5h6.0v2.6h-6.0zM489.3 230.9h6.0v2.6h-6.0zM495.0 230.9h6.0v2.6h-6.0zM500.7 230.9h6.0v2.6h-6.0zM506.5 230.9h6.0v5.0h-6.0zM512.2 233.3h6.0v2.6h-6.0zM517.9 235.7h6.0v2.6h-6.0zM523.7 238.1h6.0v2.6h-6.0zM529.4 242.9h6.0v2.6h-6.0zM535.1 245.3h6.0v5.0h-6.0zM535.1 281.3h6.0v2.6h-6.0zM540.9 250.1h6.0v5.0h-6.0zM546.6 254.9h6.0v5.0h-6.0zM546.6 295.7h6.0v2.6h-6.0zM552.3 259.7h6.0v7.4h-6.0zM558.1 262.1h6.0v7.4h-6.0zM563.8 266.9h6.0v5.0h-6.0zM569.5 269.3h6.0v5.0h-6.0zM569.5 317.3h6.0v2.6h-6.0zM575.3 271.7h6.0v5.0h-6.0zM581.0 274.1h6.0v7.4h-6.0zM581.0 324.5h6.0v2.6h-6.0zM586.7 276.5h6.0v7.4h-6.0zM592.5 281.3h6.0v5.0h-6.0zM592.5 331.7h6.0v2.6h-6.0zM598.2 283.7h6.0v5.0h-6.0zM598.2 334.1h6.0v2.6h-6.0zM603.9 286.1h6.0v7.4h-6.0zM603.9 338.9h6.0v2.6h-6.0zM609.7 290.9h6.0v5.0h-6.0zM609.7 343.7h6.0v2.6h-6.0zM615.4 293.3h6.0v5.0h-6.0zM615.4 346.1h6.0v2.6h-6.0zM621.1 295.7h6.0v7.4h-6.0zM621.1 350.9h6.0v2.6h-6.0zM626.9 300.5h6.0v5.0h-6.0zM626.9 353.3h6.0v2.6h-6.0zM632.6 302.9h6.0v5.0h-6.0zM632.6 358.1h6.0v2.6h-6.0zM638.3 305.3h6.0v7.4h-6.0zM638.3 360.5h6.0v2.6h-6.0zM644.1 310.1h6.0v5.0h-6.0zM644.1 365.3h6.0v2.6h-6.0zM649.8 312.5h6.0v5.0h-6.0zM649.8 367.7h6.0v2.6h-6.0zM655.5 312.5h6.0v5.0h-6.0zM655.5 370.1h6.0v2.6h-6.0zM661.3 312.5h6.0v5.0h-6.0zM661.3 372.5h6.0v2.6h-6.0zM667.0 312.5h6.0v5.0h-6.0zM667.0 372.5h6.0v2.6h-6.0zM672.7 312.5h6.0v5.0h-6.0zM672.7 372.5h6.0v2.6h-6.0zM678.5 312.5h6.0v2.6h-6.0zM678.5 372.5h6.0v2.6h-6.0zM684.2 310.1h6.0v5.0h-6.0zM689.9 310.1h6.0v5.0h-6.0zM689.9 374.9h6.0v2.6h-6.0zM695.7 310.1h6.0v2.6h-6.0zM695.7 372.5h6.0v2.6h-6.0zM701.4 307.7h6.0v5.0h-6.0zM701.4 372.5h6.0v2.6h-6.0zM707.1 307.7h6.0v2.6h-6.0zM707.1 372.5h6.0v2.6h-6.0zM712.9 307.7h6.0v2.6h-6.0zM718.6 305.3h6.0v2.6h-6.0zM724.3 305.3h6.0v2.6h-6.0zM730.1 302.9h6.0v5.0h-6.0zM735.8 302.9h6.0v2.6h-6.0zM741.5 302.9h6.0v2.6h-6.0zM747.3 300.5h6.0v5.0h-6.0zM747.3 367.7h6.0v2.6h-6.0zM753.0 300.5h3.7v2.6h-3.7zM753.0 367.7h3.7v2.6h-3.7z"/>
<path fill="#d2e21b" d="M151.0 187.7h6.0v2.6h-6.0zM151.0 235.7h6.0v2.6h-6.0zM156.7 190.1h6.0v2.6h-6.0zM156.7 235.7h6.0v5.0h-6.0zM162.5 190.1h6.0v2.6h-6.0zM162.5 238.1h6.0v5.0h-6.0zM168.2 192.5h6.0v2.6h-6.0zM168.2 238.1h6.0v5.0h-6.0zM173.9 192.5h6.0v2.6h-6.0zM173.9 242.9h6.0v5.0h-6.0zM179.7 194.9h6.0v2.6h-6.0zM179.7 259.7h6.0v5.0h-6.0zM185.4 262.1h6.0v2.6h-6.0zM191.1 197.3h6.0v2.6h-6.0zM191.1 262.1h6.0v2.6h-6.0zM196.9 262.1h6.0v2.6h-6.0zM202.6 199.7h6.0v2.6h-6.0zM202.6 262.1h6.0v2.6h-6.0zM208.3 262.1h6.0v2.6h-6.0zM214.1 202.1h6.0v2.6h-6.0zM214.1 262.1h6.0v2.6h-6.0zM219.8 204.5h6.0v2.6h-6.0zM219.8 262.1h6.0v2.6h-6.0zM225.5 204.5h6.0v2.6h-6.0zM225.5 262.1h6.0v2.6h-6.0zM231.3 206.9h6.0v2.6h-6.0zM231.3 264.5h6.0v2.6h-6.0zM237.0 209.3h6.0v2.6h-6.0zM237.0 264.5h6.0v2.6h-6.0zM242.7 211.7h6.0v2.6h-6.0zM242.7 264.5h6.0v2.6h-6.0zM248.5 211.7h6.0v2.6h-6.0zM248.5 266.9h6.0v2.6h-6.0zM254.2 211.7h6.0v2.6h-6.0zM254.2 269.3h6.0v2.6h-6.0zM259.9 211.7h6.0v5.0h-6.0zM259.9 271.7h6.0v2.6h-6.0zM265.7 214.1h6.0v2.6h-6.0zM265.7 274.1h6.0v2.6h-6.0zM271.4 214.1h6.0v5.0h-6.0zM271.4 278.9h6.0v2.6h-6.0zM277.1 214.1h6.0v5.0h-6.0zM277.1 283.7h6.0v2.6h-6.0zM282.9 216.5h6.0v5.0h-6.0zM282.9 286.1h6.0v5.0h-6.0zM288.6 218.9h6.0v7.4h-6.0zM288.6 290.9h6.0v2.6h-6.0zM294.3 221.3h6.0v31.4h-6.0zM294.3 293.3h6.0v5.0h-6.0zM300.1 247.7h6.0v9.8h-6.0zM300.1 298.1h6.0v2.6h-6.0zM305.8 254.9h6.0v7.4h-6.0zM305.8 302.9h6.0v2.6h-6.0zM311.5 259.7h6.0v7.4h-6.0zM311.5 305.3h6.0v2.6h-6.0zM317.3 262.1h6.0v7.4h-6.0zM317.3 307.7h6.0v2.6h-6.0zM323.0 266.9h6.0v5.0h-6.0zM323.0 310.1h6.0v2.6h-6.0zM328.7 269.3h6.0v5.0h-6.0zM328.7 310.1h6.0v2.6h-6.0zM334.5 271.7h6.0v5.0h-6.0zM334.5 312.5h6.0v2.6h-6.0zM340.2 274.1h6.0v5.0h-6.0zM340.2 312.5h6.0v2.6h-6.0zM345.9 276.5h6.0v5.0h-6.0zM345.9 312.5h6.0v2.6h-6.0zM351.7 278.9h6.0v5.0h-6.0zM351.7 314.9h6.0v2.6h-6.0zM357.4 278.9h6.0v5.0h-6.0zM357.4 314.9h6.0v2.6h-6.0zM363.1 281.3h6.0v2.6h-6.0zM363.1 314.9h6.0v2.6h-6.0zM368.9 281.3h6.0v2.6h-6.0zM368.9 314.9h6.0v2.6h-6.0zM374.6 281.3h6.0v2.6h-6.0zM380.3 278.9h6.0v2.6h-6.0zM380.3 312.5h6.0v2.6h-6.0zM386.1 276.5h6.0v2.6h-6.0zM386.1 310.1h6.0v2.6h-6.0zM391.8 274.1h6.0v2.6h-6.0zM397.5 269.3h6.0v2.6h-6.0zM397.5 302.9h6.0v2.6h-6.0zM403.3 264.5h6.0v2.6h-6.0zM409.0 262.1h6.0v2.6h-6.0zM414.7 257.3h6.0v2.6h-6.0zM414.7 290.9h6.0v2.6h-6.0zM420.5 254.9h6.0v2.6h-6.0zM420.5 288.5h6.0v2.6h-6.0zM426.2 252.5h6.0v2.6h-6.0zM437.7 245.3h6.0v2.6h-6.0zM443.4 242.9h6.0v2.6h-6.0zM449.1 242.9h6.0v2.6h-6.0zM454.9 240.5h6.0v2.6h-6.0zM454.9 271.7h6.0v2.6h-6.0zM460.6 238.1h6.0v2.6h-6.0zM466.3 238.1h6.0v2.6h-6.0zM472.1 235.7h6.0v2.6h-6.0zM477.8 235.7h6.0v2.6h-6.0zM477.8 264.5h6.0v2.6h-6.0zM483.5 233.3h6.0v2.6h-6.0zM489.3 233.3h6.0v2.6h-6.0zM489.3 262.1h6.0v2.6h-6.0zM495.0 233.3h6.0v2.6h-6.0zM495.0 262.1h6.0v2.6h-6.0zM500.7 233.3h6.0v2.6h-6.0zM500.7 262.1h6.0v2.6h-6.0zM506.5 235.7h6.0v2.6h-6.0zM506.5 262.1h6.0v2.6h-6.0zM512.2 235.7h6.0v2.6h-6.0zM512.2 264.5h6.0v2.6h-6.0zM517.9 238.1h6.0v2.6h-6.0zM517.9 264.5h6.0v2.6h-6.0zM523.7 240.5h6.0v2.6h-6.0zM523.7 269.3h6.0v2.6h-6.0zM529.4 245.3h6.0v5.0h-6.0zM529.4 271.7h6.0v2.6h-6.0zM535.1 250.1h6.0v2.6h-6.0zM540.9 254.9h6.0v2.6h-6.0zM546.6 259.7h6.0v5.0h-6.0zM552.3 266.9h6.0v2.6h-6.0zM552.3 302.9h6.0v2.6h-6.0zM558.1 269.3h6.0v2.6h-6.0zM558.1 307.7h6.0v2.6h-6.0zM563.8 271.7h6.0v5.0h-6.0zM563.8 312.5h6.0v2.6h-6.0zM569.5 274.1h6.0v5.0h-6.0zM575.3 276.5h6.0v5.0h-6.0zM575.3 319.7h6.0v2.6h-6.0zM581.0 281.3h6.0v2.6h-6.0zM586.7 283.7h6.0v2.6h-6.0zM586.7 326.9h6.0v2.6h-6.0zM592.5 286.1h6.0v2.6h-6.0zM592.5 329.3h6.0v2.6h-6.0zM598.2 288.5h6.0v5.0h-6.0zM603.9 293.3h6.0v2.6h-6.0zM603.9 336.5h6.0v2.6h-6.0zM609.7 295.7h6.0v5.0h-6.0zM609.7 341.3h6.0v2.6h-6.0zM615.4 298.1h6.0v5.0h-6.0zM621.1 302.9h6.0v5.0h-6.0zM621.1 348.5h6.0v2.6h-6.0zM626.9 305.3h6.0v5.0h-6.0zM632.6 307.7h6.0v5.0h-6.0zM632.6 355.7h6.0v2.6h-6.0zM638.3 312.5h6.0v2.6h-6.0zM644.1 314.9h6.0v5.0h-6.0zM644.1 362.9h6.0v2.6h-6.0zM649.8 317.3h6.0v2.6h-6.0zM649.8 365.3h6.0v2.6h-6.0zM655.5 317.3h6.0v5.0h-6.0zM655.5 367.7h6.0v2.6h-6.0zM661.3 317.3h6.0v5.0h-6.0zM661.3 370.1h6.0v2.6h-6.0zM667.0 317.3h6.0v2.6h-6.0zM667.0 370.1h6.0v2.6h-6.0zM672.7 317.3h6.0v2.6h-6.0zM672.7 370.1h6.0v2.6h-6.0zM678.5 314.9h6.0v5.0h-6.0zM684.2 314.9h6.0v2.6h-6.0zM684.2 372.5h6.0v2.6h-6.0zM689.9 314.9h6.0v2.6h-6.0zM689.9 372.5h6.0v2.6h-6.0zM695.7 312.5h6.0v2.6h-6.0zM701.4 312.5h6.0v2.6h-6.0zM701.4 370.1h6.0v2.6h-6.0zM707.1 310.1h6.0v2.6h-6.0zM707.1 370.1h6.0v2.6h-6.0zM712.9 310.1h6.0v2.6h-6.0zM712.9 370.1h6.0v2.6h-6.0zM718.6 307.7h6.0v2.6h-6.0zM718.6 367.7h6.0v2.6h-6.0zM724.3 307.7h6.0v2.6h-6.0zM724.3 367.7h6.0v2.6h-6.0zM730.1 307.7h6.0v2.6h-6.0zM730.1 367.7h6.0v2.6h-6.0zM735.8 305.3h6.0v2.6h-6.0zM735.8 367.7h6.0v2.6h-6.0zM741.5 305.3h6.0v2.6h-6.0zM741.5 367.7h6.0v2.6h-6.0zM747.3 305.3h6.0v2.6h-6.0zM747.3 365.3h6.0v2.6h-6.0zM753.0 302.9h3.7v2.6h-3.7zM753.0 365.3h3.7v2.6h-3.7z"/>
<path fill="#c8e020" d="M151.0 190.1h6.0v2.6h-6.0zM151.0 230.9h6.0v5.0h-6.0zM156.7 233.3h6.0v2.6h-6.0zM162.5 192.5h6.0v2.6h-6.0zM162.5 233.3h6.0v5.0h-6.0zM168.2 233.3h6.0v5.0h-6.0zM173.9 194.9h6.0v2.6h-6.0zM173.9 235.7h6.0v7.4h-6.0zM179.7 197.3h6.0v2.6h-6.0zM179.7 230.9h6.0v5.0h-6.0zM179.7 257.3h6.0v2.6h-6.0zM185.4 197.3h6.0v2.6h-6.0zM185.4 257.3h6.0v5.0h-6.0zM191.1 199.7h6.0v2.6h-6.0zM191.1 257.3h6.0v5.0h-6.0zM196.9 199.7h6.0v2.6h-6.0zM196.9 259.7h6.0v2.6h-6.0zM202.6 202.1h6.0v2.6h-6.0zM202.6 259.7h6.0v2.6h-6.0zM208.3 202.1h6.0v2.6h-6.0zM208.3 259.7h6.0v2.6h-6.0zM214.1 204.5h6.0v2.6h-6.0zM214.1 259.7h6.0v2.6h-6.0zM219.8 259.7h6.0v2.6h-6.0zM225.5 206.9h6.0v2.6h-6.0zM225.5 259.7h6.0v2.6h-6.0zM231.3 209.3h6.0v2.6h-6.0zM231.3 259.7h6.0v5.0h-6.0zM237.0 211.7h6.0v2.6h-6.0zM237.0 262.1h6.0v2.6h-6.0zM242.7 214.1h6.0v2.6h-6.0zM242.7 262.1h6.0v2.6h-6.0zM248.5 214.1h6.0v5.0h-6.0zM248.5 264.5h6.0v2.6h-6.0zM254.2 214.1h6.0v2.6h-6.0zM254.2 266.9h6.0v2.6h-6.0zM259.9 216.5h6.0v5.0h-6.0zM259.9 269.3h6.0v2.6h-6.0zM265.7 216.5h6.0v5.0h-6.0zM265.7 271.7h6.0v2.6h-6.0zM271.4 218.9h6.0v7.4h-6.0zM271.4 274.1h6.0v5.0h-6.0zM277.1 218.9h6.0v21.8h-6.0zM277.1 281.3h6.0v2.6h-6.0zM282.9 221.3h6.0v24.2h-6.0zM282.9 283.7h6.0v2.6h-6.0zM288.6 226.1h6.0v26.6h-6.0zM288.6 288.5h6.0v2.6h-6.0zM294.3 252.5h6.0v5.0h-6.0zM300.1 257.3h6.0v5.0h-6.0zM300.1 295.7h6.0v2.6h-6.0zM305.8 262.1h6.0v5.0h-6.0zM305.8 300.5h6.0v2.6h-6.0zM311.5 266.9h6.0v5.0h-6.0zM311.5 302.9h6.0v2.6h-6.0zM317.3 269.3h6.0v5.0h-6.0zM317.3 305.3h6.0v2.6h-6.0zM323.0 271.7h6.0v5.0h-6.0zM323.0 307.7h6.0v2.6h-6.0zM328.7 274.1h6.0v5.0h-6.0zM328.7 307.7h6.0v2.6h-6.0zM334.5 276.5h6.0v5.0h-6.0zM334.5 310.1h6.0v2.6h-6.0zM340.2 278.9h6.0v2.6h-6.0zM340.2 310.1h6.0v2.6h-6.0zM345.9 281.3h6.0v2.6h-6.0zM351.7 283.7h6.0v2.6h-6.0zM351.7 312.5h6.0v2.6h-6.0zM357.4 283.7h6.0v2.6h-6.0zM357.4 312.5h6.0v2.6h-6.0zM363.1 283.7h6.0v2.6h-6.0zM363.1 312.5h6.0v2.6h-6.0zM368.9 283.7h6.0v2.6h-6.0zM368.9 312.5h6.0v2.6h-6.0zM374.6 283.7h6.0v2.6h-6.0zM374.6 312.5h6.0v2.6h-6.0zM380.3 281.3h6.0v2.6h-6.0zM380.3 310.1h6.0v2.6h-6.0zM386.1 278.9h6.0v2.6h-6.0zM391.8 276.5h6.0v2.6h-6.0zM391.8 305.3h6.0v2.6h-6.0zM397.5 271.7h6.0v2.6h-6.0zM403.3 266.9h6.0v2.6h-6.0zM403.3 298.1h6.0v2.6h-6.0zM409.0 293.3h6.0v2.6h-6.0zM414.7 259.7h6.0v2.6h-6.0zM426.2 283.7h6.0v2.6h-6.0zM431.9 250.1h6.0v2.6h-6.0zM431.9 281.3h6.0v2.6h-6.0zM437.7 247.7h6.0v2.6h-6.0zM437.7 278.9h6.0v2.6h-6.0zM443.4 245.3h6.0v2.6h-6.0zM443.4 276.5h6.0v2.6h-6.0zM449.1 274.1h6.0v2.6h-6.0zM454.9 242.9h6.0v2.6h-6.0zM460.6 240.5h6.0v2.6h-6.0zM460.6 269.3h6.0v2.6h-6.0zM466.3 266.9h6.0v2.6h-6.0zM472.1 238.1h6.0v2.6h-6.0zM483.5 235.7h6.0v2.6h-6.0zM489.3 235.7h6.0v2.6h-6.0zM495.0 235.7h6.0v2.6h-6.0zM500.7 235.7h6.0v2.6h-6.0zM512.2 238.1h6.0v2.6h-6.0zM517.9 240.5h6.0v2.6h-6.0zM523.7 242.9h6.0v2.6h-6.0zM535.1 252.5h6.0v2.6h-6.0zM540.9 257.3h6.0v2.6h-6.0zM540.9 286.1h6.0v2.6h-6.0zM546.6 264.5h6.0v2.6h-6.0zM552.3 269.3h6.0v2.6h-6.0zM558.1 271.7h6.0v5.0h-6.0zM563.8 276.5h6.0v2.6h-6.0zM569.5 278.9h6.0v2.6h-6.0zM569.5 314.9h6.0v2.6h-6.0zM575.3 281.3h6.0v2.6h-6.0zM581.0 283.7h6.0v2.6h-6.0zM581.0 322.1h6.0v2.6h-6.0zM586.7 286.1h6.0v5.0h-6.0zM586.7 324.5h6.0v2.6h-6.0zM592.5 288.5h6.0v5.0h-6.0zM598.2 293.3h6.0v2.6h-6.0zM598.2 331.7h6.0v2.6h-6.0zM603.9 295.7h6.0v5.0h-6.0zM609.7 300.5h6.0v2.6h-6.0zM615.4 302.9h6.0v5.0h-6.0zM615.4 343.7h6.0v2.6h-6.0zM621.1 307.7h6.0v2.6h-6.0zM626.9 310.1h6.0v2.6h-6.0zM626.9 350.9h6.0v2.6h-6.0zM632.6 312.5h6.0v5.0h-6.0zM638.3 314.9h6.0v5.0h-6.0zM638.3 358.1h6.0v2.6h-6.0zM644.1 319.7h6.0v2.6h-6.0zM644.1 360.5h6.0v2.6h-6.0zM649.8 319.7h6.0v5.0h-6.0zM655.5 322.1h6.0v2.6h-6.0zM655.5 365.3h6.0v2.6h-6.0zM661.3 322.1h6.0v2.6h-6.0zM661.3 367.7h6.0v2.6h-6.0zM667.0 319.7h6.0v5.0h-6.0zM672.7 319.7h6.0v2.6h-6.0zM678.5 319.7h6.0v2.6h-6.0zM678.5 370.1h6.0v2.6h-6.0zM684.2 317.3h6.0v2.6h-6.0zM684.2 370.1h6.0v2.6h-6.0zM689.9 317.3h6.0v2.6h-6.0zM689.9 370.1h6.0v2.6h-6.0zM695.7 314.9h6.0v2.6h-6.0zM695.7 370.1h6.0v2.6h-6.0zM701.4 314.9h6.0v2.6h-6.0zM707.1 312.5h6.0v2.6h-6.0zM707.1 367.7h6.0v2.6h-6.0zM712.9 312.5h6.0v2.6h-6.0zM712.9 367.7h6.0v2.6h-6.0zM718.6 310.1h6.0v2.6h-6.0zM724.3 310.1h6.0v2.6h-6.0zM730.1 365.3h6.0v2.6h-6.0zM735.8 307.7h6.0v2.6h-6.0zM735.8 365.3h6.0v2.6h-6.0zM741.5 307.7h6.0v2.6h-6.0zM741.5 365.3h6.0v2.6h-6.0zM747.3 362.9h6.0v2.6h-6.0zM753.0 305.3h3.7v2.6h-3.7zM753.0 362.9h3.7v2.6h-3.7z"/>
<path fill="#bddf26" d="M151.0 228.5h6.0v2.6h-6.0zM156.7 192.5h6.0v2.6h-6.0zM156.7 228.5h6.0v5.0h-6.0zM162.5 228.5h6.0v5.0h-6.0zM168.2 194.9h6.0v2.6h-6.0zM168.2 230.9h6.0v2.6h-6.0zM173.9 197.3h6.0v2.6h-6.0zM173.9 230.9h6.0v5.0h-6.0zM179.7 226.1h6.0v5.0h-6.0zM179.7 235.7h6.0v5.0h-6.0zM179.7 254.9h6.0v2.6h-6.0zM185.4 199.7h6.0v2.6h-6.0zM185.4 226.1h6.0v14.6h-6.0zM185.4 254.9h6.0v2.6h-6.0zM191.1 226.1h6.0v14.6h-6.0zM191.1 254.9h6.0v2.6h-6.0zM196.9 202.1h6.0v2.6h-6.0zM196.9 228.5h6.0v12.2h-6.0zM196.9 254.9h6.0v5.0h-6.0zM202.6 228.5h6.0v12.2h-6.0zM202.6 254.9h6.0v5.0h-6.0zM208.3 204.5h6.0v2.6h-6.0zM208.3 230.9h6.0v9.8h-6.0zM208.3 254.9h6.0v5.0h-6.0zM214.1 206.9h6.0v2.6h-6.0zM214.1 233.3h6.0v7.4h-6.0zM214.1 257.3h6.0v2.6h-6.0zM219.8 206.9h6.0v2.6h-6.0zM219.8 257.3h6.0v2.6h-6.0zM225.5 209.3h6.0v2.6h-6.0zM225.5 257.3h6.0v2.6h-6.0zM231.3 211.7h6.0v2.6h-6.0zM231.3 257.3h6.0v2.6h-6.0zM237.0 214.1h6.0v2.6h-6.0zM237.0 257.3h6.0v5.0h-6.0zM242.7 216.5h6.0v2.6h-6.0zM242.7 259.7h6.0v2.6h-6.0zM248.5 218.9h6.0v2.6h-6.0zM248.5 262.1h6.0v2.6h-6.0zM254.2 216.5h6.0v7.4h-6.0zM254.2 264.5h6.0v2.6h-6.0zM259.9 221.3h6.0v7.4h-6.0zM259.9 266.9h6.0v2.6h-6.0zM265.7 221.3h6.0v12.2h-6.0zM265.7 269.3h6.0v2.6h-6.0zM271.4 226.1h6.0v17.1h-6.0zM277.1 240.5h6.0v7.4h-6.0zM277.1 278.9h6.0v2.6h-6.0zM282.9 245.3h6.0v7.4h-6.0zM288.6 252.5h6.0v5.0h-6.0zM288.6 286.1h6.0v2.6h-6.0zM294.3 257.3h6.0v5.0h-6.0zM294.3 290.9h6.0v2.6h-6.0zM300.1 262.1h6.0v5.0h-6.0zM305.8 266.9h6.0v5.0h-6.0zM305.8 298.1h6.0v2.6h-6.0zM311.5 271.7h6.0v2.6h-6.0zM317.3 274.1h6.0v2.6h-6.0zM323.0 276.5h6.0v2.6h-6.0zM323.0 305.3h6.0v2.6h-6.0zM328.7 278.9h6.0v2.6h-6.0zM334.5 281.3h6.0v2.6h-6.0zM334.5 307.7h6.0v2.6h-6.0zM340.2 281.3h6.0v2.6h-6.0zM345.9 283.7h6.0v2.6h-6.0zM345.9 310.1h6.0v2.6h-6.0zM351.7 310.1h6.0v2.6h-6.0zM357.4 286.1h6.0v2.6h-6.0zM363.1 286.1h6.0v2.6h-6.0zM368.9 286.1h6.0v2.6h-6.0zM374.6 286.1h6.0v2.6h-6.0zM374.6 310.1h6.0v2.6h-6.0zM380.3 283.7h6.0v2.6h-6.0zM386.1 281.3h6.0v2.6h-6.0zM386.1 307.7h6.0v2.6h-6.0zM397.5 274.1h6.0v2.6h-6.0zM397.5 300.5h6.0v2.6h-6.0zM403.3 269.3h6.0v2.6h-6.0zM409.0 264.5h6.0v2.6h-6.0zM414.7 288.5h6.0v2.6h-6.0zM420.5 257.3h6.0v2.6h-6.0zM420.5 286.1h6.0v2.6h-6.0zM426.2 254.9h6.0v2.6h-6.0zM431.9 252.5h6.0v2.6h-6.0zM437.7 250.1h6.0v2.6h-6.0zM443.4 247.7h6.0v2.6h-6.0zM449.1 245.3h6.0v2.6h-6.0zM460.6 242.9h6.0v2.6h-6.0zM466.3 240.5h6.0v2.6h-6.0zM472.1 264.5h6.0v2.6h-6.0zM477.8 238.1h6.0v2.6h-6.0zM483.5 238.1h6.0v2.6h-6.0zM483.5 262.1h6.0v2.6h-6.0zM500.7 238.1h6.0v2.6h-6.0zM506.5 238.1h6.0v2.6h-6.0zM512.2 240.5h6.0v2.6h-6.0zM517.9 242.9h6.0v2.6h-6.0zM523.7 245.3h6.0v2.6h-6.0zM529.4 250.1h6.0v2.6h-6.0zM535.1 254.9h6.0v2.6h-6.0zM535.1 278.9h6.0v2.6h-6.0zM540.9 259.7h6.0v2.6h-6.0zM546.6 266.9h6.0v2.6h-6.0zM546.6 293.3h6.0v2.6h-6.0zM552.3 271.7h6.0v2.6h-6.0zM552.3 300.5h6.0v2.6h-6.0zM558.1 276.5h6.0v2.6h-6.0zM558.1 305.3h6.0v2.6h-6.0zM563.8 278.9h6.0v2.6h-6.0zM563.8 310.1h6.0v2.6h-6.0zM569.5 281.3h6.0v2.6h-6.0zM575.3 283.7h6.0v2.6h-6.0zM575.3 317.3h6.0v2.6h-6.0zM581.0 286.1h6.0v5.0h-6.0zM586.7 290.9h6.0v2.6h-6.0zM592.5 293.3h6.0v2.6h-6.0zM592.5 326.9h6.0v2.6h-6.0zM598.2 295.7h6.0v2.6h-6.0zM603.9 300.5h6.0v2.6h-6.0zM603.9 334.1h6.0v2.6h-6.0zM609.7 302.9h6.0v2.6h-6.0zM609.7 338.9h6.0v2.6h-6.0zM615.4 307.7h6.0v2.6h-6.0zM615.4 341.3h6.0v2.6h-6.0zM621.1 310.1h6.0v2.6h-6.0zM621.1 346.1h6.0v2.6h-6.0zM626.9 312.5h6.0v5.0h-6.0zM632.6 317.3h6.0v2.6h-6.0zM632.6 353.3h6.0v2.6h-6.0zM638.3 319.7h6.0v2.6h-6.0zM638.3 355.7h6.0v2.6h-6.0zM644.1 322.1h6.0v2.6h-6.0zM649.8 324.5h6.0v2.6h-6.0zM649.8 362.9h6.0v2.6h-6.0zM655.5 324.5h6.0v2.6h-6.0zM661.3 324.5h6.0v2.6h-6.0zM667.0 324.5h6.0v2.6h-6.0zM667.0 367.7h6.0v2.6h-6.0zM672.7 322.1h6.0v2.6h-6.0zM672.7 367.7h6.0v2.6h-6.0zM678.5 322.1h6.0v2.6h-6.0zM678.5 367.7h6.0v2.6h-6.0zM684.2 319.7h6.0v2.6h-6.0zM684.2 367.7h6.0v2.6h-6.0zM689.9 319.7h6.0v2.6h-6.0zM689.9 367.7h6.0v2.6h-6.0zM695.7 317.3h6.0v2.6h-6.0zM695.7 367.7h6.0v2.6h-6.0zM701.4 317.3h6.0v2.6h-6.0zM701.4 367.7h6.0v2.6h-6.0zM707.1 314.9h6.0v2.6h-6.0zM712.9 314.9h6.0v2.6h-6.0zM712.9 365.3h6.0v2.6h-6.0zM718.6 312.5h6.0v2.6h-6.0zM718.6 365.3h6.0v2.6h-6.0zM724.3 312.5h6.0v2.6h-6.0zM724.3 365.3h6.0v2.6h-6.0zM730.1 310.1h6.0v2.6h-6.0zM730.1 362.9h6.0v2.6h-6.0zM735.8 310.1h6.0v2.6h-6.0zM735.8 362.9h6.0v2.6h-6.0zM741.5 310.1h6.0v2.6h-6.0zM741.5 362.9h6.0v2.6h-6.0zM747.3 307.7h6.0v2.6h-6.0zM747.3 360.5h6.0v2.6h-6.0zM753.0 307.7h3.7v2.6h-3.7zM753.0 360.5h3.7v2.6h-3.7z"/>
<path fill="#b2dd2d" d="M151.0 192.5h6.0v2.6h-6.0zM151.0 223.7h6.0v5.0h-6.0zM156.7 226.1h6.0v2.6h-6.0zM162.5 194.9h6.0v2.6h-6.0zM162.5 226.1h6.0v2.6h-6.0zM168.2 197.3h6.0v2.6h-6.0zM168.2 226.1h6.0v5.0h-6.0zM173.9 226.1h6.0v5.0h-6.0zM179.7 199.7h6.0v2.6h-6.0zM179.7 221.3h6.0v5.0h-6.0zM179.7 240.5h6.0v14.6h-6.0zM185.4 202.1h6.0v2.6h-6.0zM185.4 221.3h6.0v5.0h-6.0zM185.4 240.5h6.0v14.6h-6.0zM191.1 202.1h6.0v2.6h-6.0zM191.1 223.7h6.0v2.6h-6.0zM191.1 240.5h6.0v14.6h-6.0zM196.9 204.5h6.0v2.6h-6.0zM196.9 223.7h6.0v5.0h-6.0zM196.9 240.5h6.0v14.6h-6.0zM202.6 204.5h6.0v2.6h-6.0zM202.6 226.1h6.0v2.6h-6.0zM202.6 240.5h6.0v14.6h-6.0zM208.3 206.9h6.0v2.6h-6.0zM208.3 226.1h6.0v5.0h-6.0zM208.3 240.5h6.0v14.6h-6.0zM214.1 209.3h6.0v2.6h-6.0zM214.1 228.5h6.0v5.0h-6.0zM214.1 240.5h6.0v7.4h-6.0zM214.1 250.1h6.0v7.4h-6.0zM219.8 209.3h6.0v2.6h-6.0zM219.8 228.5h6.0v19.4h-6.0zM219.8 250.1h6.0v7.4h-6.0zM225.5 211.7h6.0v2.6h-6.0zM225.5 230.9h6.0v14.6h-6.0zM225.5 252.5h6.0v5.0h-6.0zM231.3 233.3h6.0v12.2h-6.0zM231.3 252.5h6.0v5.0h-6.0zM237.0 216.5h6.0v2.6h-6.0zM237.0 252.5h6.0v5.0h-6.0zM242.7 218.9h6.0v2.6h-6.0zM242.7 254.9h6.0v5.0h-6.0zM248.5 221.3h6.0v2.6h-6.0zM248.5 257.3h6.0v5.0h-6.0zM254.2 223.7h6.0v5.0h-6.0zM254.2 262.1h6.0v2.6h-6.0zM259.9 228.5h6.0v5.0h-6.0zM259.9 264.5h6.0v2.6h-6.0zM265.7 233.3h6.0v5.0h-6.0zM265.7 266.9h6.0v2.6h-6.0zM271.4 242.9h6.0v2.6h-6.0zM271.4 271.7h6.0v2.6h-6.0zM277.1 247.7h6.0v2.6h-6.0zM277.1 276.5h6.0v2.6h-6.0zM282.9 252.5h6.0v2.6h-6.0zM282.9 281.3h6.0v2.6h-6.0zM288.6 257.3h6.0v2.6h-6.0zM288.6 283.7h6.0v2.6h-6.0zM294.3 262.1h6.0v2.6h-6.0zM294.3 288.5h6.0v2.6h-6.0zM300.1 266.9h6.0v2.6h-6.0zM300.1 293.3h6.0v2.6h-6.0zM305.8 271.7h6.0v2.6h-6.0zM311.5 274.1h6.0v2.6h-6.0zM311.5 300.5h6.0v2.6h-6.0zM317.3 276.5h6.0v2.6h-6.0zM317.3 302.9h6.0v2.6h-6.0zM323.0 278.9h6.0v2.6h-6.0zM323.0 302.9h6.0v2.6h-6.0zM328.7 281.3h6.0v2.6h-6.0zM328.7 305.3h6.0v2.6h-6.0zM334.5 283.7h6.0v2.6h-6.0zM340.2 283.7h6.0v2.6h-6.0zM340.2 307.7h6.0v2.6h-6.0zM345.9 286.1h6.0v2.6h-6.0zM345.9 307.7h6.0v2.6h-6.0zM351.7 286.1h6.0v2.6h-6.0zM357.4 288.5h6.0v2.6h-6.0zM357.4 310.1h6.0v2.6h-6.0zM363.1 288.5h6.0v2.6h-6.0zM363.1 310.1h6.0v2.6h-6.0zM368.9 288.5h6.0v2.6h-6.0zM368.9 310.1h6.0v2.6h-6.0zM380.3 286.1h6.0v2.6h-6.0zM380.3 307.7h6.0v2.6h-6.0zM386.1 283.7h6.0v2.6h-6.0zM391.8 278.9h6.0v2.6h-6.0zM391.8 302.9h6.0v2.6h-6.0zM403.3 295.7h6.0v2.6h-6.0zM414.7 262.1h6.0v2.6h-6.0zM420.5 259.7h6.0v2.6h-6.0zM437.7 276.5h6.0v2.6h-6.0zM443.4 274.1h6.0v2.6h-6.0zM449.1 247.7h6.0v2.6h-6.0zM449.1 271.7h6.0v2.6h-6.0zM454.9 245.3h6.0v2.6h-6.0zM454.9 269.3h6.0v2.6h-6.0zM466.3 242.9h6.0v2.6h-6.0zM472.1 240.5h6.0v2.6h-6.0zM477.8 240.5h6.0v2.6h-6.0zM489.3 238.1h6.0v2.6h-6.0zM495.0 238.1h6.0v2.6h-6.0zM506.5 240.5h6.0v2.6h-6.0zM529.4 252.5h6.0v2.6h-6.0zM535.1 257.3h6.0v2.6h-6.0zM540.9 262.1h6.0v2.6h-6.0zM546.6 269.3h6.0v2.6h-6.0zM552.3 274.1h6.0v2.6h-6.0zM563.8 281.3h6.0v2.6h-6.0zM569.5 283.7h6.0v2.6h-6.0zM569.5 312.5h6.0v2.6h-6.0zM575.3 286.1h6.0v2.6h-6.0zM581.0 290.9h6.0v2.6h-6.0zM581.0 319.7h6.0v2.6h-6.0zM586.7 293.3h6.0v2.6h-6.0zM586.7 322.1h6.0v2.6h-6.0zM592.5 295.7h6.0v2.6h-6.0zM598.2 298.1h6.0v2.6h-6.0zM598.2 329.3h6.0v2.6h-6.0zM603.9 302.9h6.0v2.6h-6.0zM609.7 305.3h6.0v5.0h-6.0zM609.7 336.5h6.0v2.6h-6.0zM615.4 310.1h6.0v2.6h-6.0zM621.1 312.5h6.0v2.6h-6.0zM621.1 343.7h6.0v2.6h-6.0zM626.9 317.3h6.0v2.6h-6.0zM626.9 348.5h6.0v2.6h-6.0zM632.6 319.7h6.0v2.6h-6.0zM632.6 350.9h6.0v2.6h-6.0zM638.3 322.1h6.0v2.6h-6.0zM644.1 324.5h6.0v2.6h-6.0zM644.1 358.1h6.0v2.6h-6.0zM649.8 326.9h6.0v2.6h-6.0zM649.8 360.5h6.0v2.6h-6.0zM655.5 326.9h6.0v2.6h-6.0zM655.5 362.9h6.0v2.6h-6.0zM661.3 326.9h6.0v5.0h-6.0zM661.3 365.3h6.0v2.6h-6.0zM667.0 326.9h6.0v2.6h-6.0zM667.0 365.3h6.0v2.6h-6.0zM672.7 324.5h6.0v5.0h-6.0zM672.7 365.3h6.0v2.6h-6.0zM678.5 324.5h6.0v5.0h-6.0zM684.2 322.1h6.0v5.0h-6.0zM689.9 322.1h6.0v2.6h-6.0zM695.7 319.7h6.0v2.6h-6.0zM701.4 319.7h6.0v2.6h-6.0zM701.4 365.3h6.0v2.6h-6.0zM707.1 317.3h6.0v2.6h-6.0zM707.1 365.3h6.0v2.6h-6.0zM712.9 317.3h6.0v2.6h-6.0zM718.6 314.9h6.0v2.6h-6.0zM718.6 362.9h6.0v2.6h-6.0zM724.3 314.9h6.0v2.6h-6.0zM724.3 362.9h6.0v2.6h-6.0zM730.1 312.5h6.0v2.6h-6.0zM730.1 343.7h6.0v2.6h-6.0zM730.1 360.5h6.0v2.6h-6.0zM735.8 312.5h6.0v2.6h-6.0zM735.8 343.7h6.0v5.0h-6.0zM735.8 360.5h6.0v2.6h-6.0zM741.5 341.3h6.0v9.8h-6.0zM741.5 358.1h6.0v5.0h-6.0zM747.3 310.1h6.0v2.6h-6.0zM747.3 341.3h6.0v19.4h-6.0zM753.0 310.1h3.7v2.6h-3.7zM753.0 341.3h3.7v19.4h-3.7z"/>
<path fill="#a5db36" d="M151.0 221.3h6.0v2.6h-6.0zM156.7 194.9h6.0v2.6h-6.0zM156.7 221.3h6.0v5.0h-6.0zM162.5 197.3h6.0v2.6h-6.0zM162.5 221.3h6.0v5.0h-6.0zM168.2 221.3h6.0v5.0h-6.0zM173.9 199.7h6.0v2.6h-6.0zM173.9 221.3h6.0v5.0h-6.0zM179.7 202.1h6.0v2.6h-6.0zM179.7 218.9h6.0v2.6h-6.0zM185.4 218.9h6.0v2.6h-6.0zM191.1 204.5h6.0v2.6h-6.0zM191.1 218.9h6.0v5.0h-6.0zM196.9 206.9h6.0v2.6h-6.0zM196.9 221.3h6.0v2.6h-6.0zM202.6 206.9h6.0v2.6h-6.0zM202.6 221.3h6.0v5.0h-6.0zM208.3 209.3h6.0v2.6h-6.0zM208.3 223.7h6.0v2.6h-6.0zM214.1 211.7h6.0v2.6h-6.0zM214.1 223.7h6.0v5.0h-6.0zM214.1 247.7h6.0v2.6h-6.0zM219.8 211.7h6.0v2.6h-6.0zM219.8 226.1h6.0v2.6h-6.0zM219.8 247.7h6.0v2.6h-6.0zM225.5 214.1h6.0v2.6h-6.0zM225.5 226.1h6.0v5.0h-6.0zM225.5 245.3h6.0v7.4h-6.0zM231.3 214.1h6.0v5.0h-6.0zM231.3 228.5h6.0v5.0h-6.0zM231.3 245.3h6.0v7.4h-6.0zM237.0 218.9h6.0v2.6h-6.0zM237.0 235.7h6.0v17.1h-6.0zM242.7 221.3h6.0v2.6h-6.0zM242.7 245.3h6.0v9.8h-6.0zM248.5 223.7h6.0v2.6h-6.0zM248.5 254.9h6.0v2.6h-6.0zM254.2 228.5h6.0v2.6h-6.0zM254.2 259.7h6.0v2.6h-6.0zM259.9 233.3h6.0v5.0h-6.0zM259.9 262.1h6.0v2.6h-6.0zM265.7 238.1h6.0v5.0h-6.0zM265.7 264.5h6.0v2.6h-6.0zM271.4 245.3h6.0v2.6h-6.0zM271.4 269.3h6.0v2.6h-6.0zM277.1 250.1h6.0v2.6h-6.0zM277.1 274.1h6.0v2.6h-6.0zM282.9 254.9h6.0v2.6h-6.0zM282.9 278.9h6.0v2.6h-6.0zM288.6 259.7h6.0v2.6h-6.0zM294.3 264.5h6.0v2.6h-6.0zM294.3 286.1h6.0v2.6h-6.0zM300.1 269.3h6.0v2.6h-6.0zM300.1 290.9h6.0v2.6h-6.0zM305.8 274.1h6.0v2.6h-6.0zM305.8 295.7h6.0v2.6h-6.0zM311.5 276.5h6.0v2.6h-6.0zM311.5 298.1h6.0v2.6h-6.0zM317.3 278.9h6.0v2.6h-6.0zM317.3 300.5h6.0v2.6h-6.0zM323.0 281.3h6.0v2.6h-6.0zM328.7 283.7h6.0v2.6h-6.0zM328.7 302.9h6.0v2.6h-6.0zM334.5 305.3h6.0v2.6h-6.0zM340.2 286.1h6.0v2.6h-6.0zM340.2 305.3h6.0v2.6h-6.0zM351.7 288.5h6.0v2.6h-6.0zM351.7 307.7h6.0v2.6h-6.0zM374.6 288.5h6.0v2.6h-6.0zM374.6 307.7h6.0v2.6h-6.0zM386.1 305.3h6.0v2.6h-6.0zM397.5 276.5h6.0v2.6h-6.0zM397.5 298.1h6.0v2.6h-6.0zM403.3 271.7h6.0v2.6h-6.0zM409.0 266.9h6.0v2.6h-6.0zM409.0 290.9h6.0v2.6h-6.0zM420.5 283.7h6.0v2.6h-6.0zM426.2 257.3h6.0v2.6h-6.0zM426.2 281.3h6.0v2.6h-6.0zM431.9 254.9h6.0v2.6h-6.0zM431.9 278.9h6.0v2.6h-6.0zM437.7 252.5h6.0v2.6h-6.0zM443.4 250.1h6.0v2.6h-6.0zM460.6 245.3h6.0v2.6h-6.0zM460.6 266.9h6.0v2.6h-6.0zM466.3 264.5h6.0v2.6h-6.0zM472.1 242.9h6.0v2.6h-6.0zM477.8 262.1h6.0v2.6h-6.0zM483.5 240.5h6.0v2.6h-6.0zM500.7 240.5h6.0v2.6h-6.0zM512.2 242.9h6.0v2.6h-6.0zM517.9 245.3h6.0v2.6h-6.0zM523.7 247.7h6.0v2.6h-6.0zM540.9 283.7h6.0v2.6h-6.0zM552.3 276.5h6.0v2.6h-6.0zM558.1 278.9h6.0v2.6h-6.0zM558.1 302.9h6.0v2.6h-6.0zM563.8 283.7h6.0v2.6h-6.0zM563.8 307.7h6.0v2.6h-6.0zM569.5 286.1h6.0v2.6h-6.0zM575.3 288.5h6.0v2.6h-6.0zM575.3 314.9h6.0v2.6h-6.0zM581.0 293.3h6.0v2.6h-6.0zM586.7 295.7h6.0v2.6h-6.0zM592.5 298.1h6.0v2.6h-6.0zM592.5 324.5h6.0v2.6h-6.0zM598.2 300.5h6.0v2.6h-6.0zM603.9 305.3h6.0v2.6h-6.0zM603.9 331.7h6.0v2.6h-6.0zM609.7 310.1h6.0v2.6h-6.0zM615.4 312.5h6.0v2.6h-6.0zM615.4 338.9h6.0v2.6h-6.0zM621.1 314.9h6.0v5.0h-6.0zM626.9 319.7h6.0v2.6h-6.0zM626.9 346.1h6.0v2.6h-6.0zM632.6 322.1h6.0v2.6h-6.0zM638.3 324.5h6.0v2.6h-6.0zM638.3 353.3h6.0v2.6h-6.0zM644.1 326.9h6.0v2.6h-6.0zM644.1 355.7h6.0v2.6h-6.0zM649.8 329.3h6.0v2.6h-6.0zM655.5 329.3h6.0v5.0h-6.0zM661.3 331.7h6.0v2.6h-6.0zM661.3 362.9h6.0v2.6h-6.0zM667.0 329.3h6.0v7.4h-6.0zM672.7 329.3h6.0v7.4h-6.0zM678.5 329.3h6.0v7.4h-6.0zM678.5 365.3h6.0v2.6h-6.0zM684.2 326.9h6.0v17.1h-6.0zM684.2 365.3h6.0v2.6h-6.0zM689.9 324.5h6.0v21.8h-6.0zM689.9 365.3h6.0v2.6h-6.0zM695.7 322.1h6.0v7.4h-6.0zM695.7 334.1h6.0v14.6h-6.0zM695.7 365.3h6.0v2.6h-6.0zM701.4 322.1h6.0v2.6h-6.0zM701.4 336.5h6.0v14.6h-6.0zM701.4 362.9h6.0v2.6h-6.0zM707.1 319.7h6.0v2.6h-6.0zM707.1 336.5h6.0v14.6h-6.0zM707.1 362.9h6.0v2.6h-6.0zM712.9 319.7h6.0v2.6h-6.0zM712.9 336.5h6.0v19.4h-6.0zM712.9 360.5h6.0v5.0h-6.0zM718.6 317.3h6.0v2.6h-6.0zM718.6 336.5h6.0v26.6h-6.0zM724.3 336.5h6.0v26.6h-6.0zM730.1 314.9h6.0v2.6h-6.0zM730.1 336.5h6.0v7.4h-6.0zM730.1 346.1h6.0v14.6h-6.0zM735.8 314.9h6.0v2.6h-6.0zM735.8 336.5h6.0v7.4h-6.0zM735.8 348.5h6.0v12.2h-6.0zM741.5 312.5h6.0v2.6h-6.0zM741.5 336.5h6.0v5.0h-6.0zM741.5 350.9h6.0v7.4h-6.0zM747.3 312.5h6.0v2.6h-6.0zM747.3 336.5h6.0v5.0h-6.0zM753.0 312.5h3.7v2.6h-3.7zM753.0 336.5h3.7v5.0h-3.7z"/>
<path fill="#9bd93c" d="M151.0 194.9h6.0v2.6h-6.0zM151.0 216.5h6.0v5.0h-6.0zM156.7 197.3h6.0v2.6h-6.0zM156.7 216.5h6.0v5.0h-6.0zM162.5 216.5h6.0v5.0h-6.0zM168.2 199.7h6.0v2.6h-6.0zM168.2 216.5h6.0v5.0h-6.0zM173.9 202.1h6.0v2.6h-6.0zM173.9 216.5h6.0v5.0h-6.0zM179.7 204.5h6.0v2.6h-6.0zM179.7 214.1h6.0v5.0h-6.0zM185.4 204.5h6.0v5.0h-6.0zM185.4 214.1h6.0v5.0h-6.0zM191.1 206.9h6.0v5.0h-6.0zM191.1 214.1h6.0v5.0h-6.0zM196.9 209.3h6.0v12.2h-6.0zM202.6 209.3h6.0v12.2h-6.0zM208.3 211.7h6.0v12.2h-6.0zM214.1 214.1h6.0v9.8h-6.0zM219.8 214.1h6.0v12.2h-6.0zM225.5 216.5h6.0v9.8h-6.0zM231.3 218.9h6.0v9.8h-6.0zM237.0 221.3h6.0v5.0h-6.0zM237.0 230.9h6.0v5.0h-6.0zM242.7 223.7h6.0v2.6h-6.0zM242.7 240.5h6.0v5.0h-6.0zM248.5 226.1h6.0v2.6h-6.0zM248.5 252.5h6.0v2.6h-6.0zM254.2 230.9h6.0v2.6h-6.0zM254.2 257.3h6.0v2.6h-6.0zM259.9 238.1h6.0v2.6h-6.0zM259.9 259.7h6.0v2.6h-6.0zM265.7 242.9h6.0v2.6h-6.0zM271.4 247.7h6.0v2.6h-6.0zM271.4 266.9h6.0v2.6h-6.0zM277.1 252.5h6.0v2.6h-6.0zM282.9 257.3h6.0v2.6h-6.0zM282.9 276.5h6.0v2.6h-6.0zM288.6 262.1h6.0v2.6h-6.0zM288.6 281.3h6.0v2.6h-6.0zM294.3 266.9h6.0v2.6h-6.0zM300.1 271.7h6.0v2.6h-6.0zM305.8 293.3h6.0v2.6h-6.0zM311.5 278.9h6.0v2.6h-6.0zM317.3 281.3h6.0v2.6h-6.0zM323.0 283.7h6.0v2.6h-6.0zM323.0 300.5h6.0v2.6h-6.0zM334.5 286.1h6.0v2.6h-6.0zM334.5 302.9h6.0v2.6h-6.0zM340.2 288.5h6.0v2.6h-6.0zM345.9 288.5h6.0v2.6h-6.0zM345.9 305.3h6.0v2.6h-6.0zM357.4 290.9h6.0v2.6h-6.0zM357.4 307.7h6.0v2.6h-6.0zM363.1 290.9h6.0v2.6h-6.0zM363.1 307.7h6.0v2.6h-6.0zM368.9 290.9h6.0v2.6h-6.0zM368.9 307.7h6.0v2.6h-6.0zM374.6 290.9h6.0v2.6h-6.0zM380.3 288.5h6.0v2.6h-6.0zM380.3 305.3h6.0v2.6h-6.0zM386.1 286.1h6.0v2.6h-6.0zM391.8 281.3h6.0v2.6h-6.0zM391.8 300.5h6.0v2.6h-6.0zM414.7 264.5h6.0v2.6h-6.0zM414.7 286.1h6.0v2.6h-6.0zM420.5 262.1h6.0v2.6h-6.0zM449.1 250.1h6.0v2.6h-6.0zM454.9 247.7h6.0v2.6h-6.0zM466.3 245.3h6.0v2.6h-6.0zM477.8 242.9h6.0v2.6h-6.0zM489.3 240.5h6.0v2.6h-6.0zM495.0 240.5h6.0v2.6h-6.0zM529.4 254.9h6.0v2.6h-6.0zM535.1 259.7h6.0v2.6h-6.0zM540.9 264.5h6.0v2.6h-6.0zM546.6 271.7h6.0v2.6h-6.0zM546.6 290.9h6.0v2.6h-6.0zM552.3 298.1h6.0v2.6h-6.0zM558.1 281.3h6.0v2.6h-6.0zM569.5 288.5h6.0v2.6h-6.0zM569.5 310.1h6.0v2.6h-6.0zM575.3 290.9h6.0v2.6h-6.0zM581.0 317.3h6.0v2.6h-6.0zM586.7 298.1h6.0v2.6h-6.0zM586.7 319.7h6.0v2.6h-6.0zM592.5 300.5h6.0v2.6h-6.0zM598.2 302.9h6.0v2.6h-6.0zM598.2 326.9h6.0v2.6h-6.0zM603.9 307.7h6.0v2.6h-6.0zM609.7 312.5h6.0v2.6h-6.0zM609.7 334.1h6.0v2.6h-6.0zM615.4 314.9h6.0v2.6h-6.0zM621.1 319.7h6.0v2.6h-6.0zM621.1 341.3h6.0v2.6h-6.0zM626.9 322.1h6.0v2.6h-6.0zM632.6 324.5h6.0v2.6h-6.0zM632.6 348.5h6.0v2.6h-6.0zM638.3 326.9h6.0v2.6h-6.0zM644.1 329.3h6.0v2.6h-6.0zM649.8 331.7h6.0v2.6h-6.0zM649.8 358.1h6.0v2.6h-6.0zM655.5 334.1h6.0v2.6h-6.0zM655.5 360.5h6.0v2.6h-6.0zM661.3 334.1h6.0v5.0h-6.0zM667.0 336.5h6.0v7.4h-6.0zM667.0 362.9h6.0v2.6h-6.0zM672.7 336.5h6.0v7.4h-6.0zM672.7 362.9h6.0v2.6h-6.0zM678.5 336.5h6.0v12.2h-6.0zM678.5 362.9h6.0v2.6h-6.0zM684.2 343.7h6.0v7.4h-6.0zM684.2 362.9h6.0v2.6h-6.0zM689.9 346.1h6.0v7.4h-6.0zM689.9 362.9h6.0v2.6h-6.0zM695.7 329.3h6.0v5.0h-6.0zM695.7 348.5h6.0v7.4h-6.0zM695.7 360.5h6.0v5.0h-6.0zM701.4 324.5h6.0v12.2h-6.0zM701.4 350.9h6.0v12.2h-6.0zM707.1 322.1h6.0v14.6h-6.0zM707.1 350.9h6.0v12.2h-6.0zM712.9 322.1h6.0v5.0h-6.0zM712.9 329.3h6.0v7.4h-6.0zM712.9 355.7h6.0v5.0h-6.0zM718.6 319.7h6.0v5.0h-6.0zM718.6 331.7h6.0v5.0h-6.0zM724.3 317.3h6.0v5.0h-6.0zM724.3 331.7h6.0v5.0h-6.0zM730.1 317.3h6.0v2.6h-6.0zM730.1 334.1h6.0v2.6h-6.0zM735.8 317.3h6.0v2.6h-6.0zM735.8 331.7h6.0v5.0h-6.0zM741.5 314.9h6.0v2.6h-6.0zM741.5 331.7h6.0v5.0h-6.0zM747.3 314.9h6.0v2.6h-6.0zM747.3 331.7h6.0v5.0h-6.0zM753.0 331.7h3.7v5.0h-3.7z"/>
<path fill="#90d743" d="M151.0 197.3h6.0v2.6h-6.0zM151.0 211.7h6.0v5.0h-6.0zM156.7 199.7h6.0v2.6h-6.0zM156.7 211.7h6.0v5.0h-6.0zM162.5 199.7h6.0v5.0h-6.0zM162.5 209.3h6.0v7.4h-6.0zM168.2 202.1h6.0v14.6h-6.0zM173.9 204.5h6.0v12.2h-6.0zM179.7 206.9h6.0v7.4h-6.0zM185.4 209.3h6.0v5.0h-6.0zM191.1 211.7h6.0v2.6h-6.0zM237.0 226.1h6.0v5.0h-6.0zM242.7 226.1h6.0v2.6h-6.0zM242.7 235.7h6.0v5.0h-6.0zM248.5 228.5h6.0v5.0h-6.0zM248.5 247.7h6.0v5.0h-6.0zM254.2 233.3h6.0v2.6h-6.0zM254.2 254.9h6.0v2.6h-6.0zM259.9 240.5h6.0v2.6h-6.0zM259.9 257.3h6.0v2.6h-6.0zM265.7 262.1h6.0v2.6h-6.0zM271.4 250.1h6.0v2.6h-6.0zM277.1 254.9h6.0v2.6h-6.0zM277.1 271.7h6.0v2.6h-6.0zM282.9 259.7h6.0v2.6h-6.0zM288.6 264.5h6.0v2.6h-6.0zM288.6 278.9h6.0v2.6h-6.0zM294.3 283.7h6.0v2.6h-6.0zM300.1 288.5h6.0v2.6h-6.0zM305.8 276.5h6.0v2.6h-6.0zM311.5 295.7h6.0v2.6h-6.0zM317.3 283.7h6.0v2.6h-6.0zM317.3 298.1h6.0v2.6h-6.0zM328.7 286.1h6.0v2.6h-6.0zM328.7 300.5h6.0v2.6h-6.0zM334.5 288.5h6.0v2.6h-6.0zM340.2 302.9h6.0v2.6h-6.0zM345.9 290.9h6.0v2.6h-6.0zM351.7 290.9h6.0v2.6h-6.0zM351.7 305.3h6.0v2.6h-6.0zM357.4 305.3h6.0v2.6h-6.0zM363.1 293.3h6.0v2.6h-6.0zM368.9 293.3h6.0v2.6h-6.0zM374.6 305.3h6.0v2.6h-6.0zM386.1 302.9h6.0v2.6h-6.0zM397.5 278.9h6.0v2.6h-6.0zM403.3 274.1h6.0v2.6h-6.0zM403.3 293.3h6.0v2.6h-6.0zM409.0 269.3h6.0v2.6h-6.0zM409.0 288.5h6.0v2.6h-6.0zM426.2 259.7h6.0v2.6h-6.0zM431.9 257.3h6.0v2.6h-6.0zM437.7 254.9h6.0v2.6h-6.0zM437.7 274.1h6.0v2.6h-6.0zM443.4 252.5h6.0v2.6h-6.0zM443.4 271.7h6.0v2.6h-6.0zM449.1 269.3h6.0v2.6h-6.0zM454.9 266.9h6.0v2.6h-6.0zM460.6 247.7h6.0v2.6h-6.0zM472.1 245.3h6.0v2.6h-6.0zM472.1 262.1h6.0v2.6h-6.0zM483.5 242.9h6.0v2.6h-6.0zM489.3 259.7h6.0v2.6h-6.0zM495.0 259.7h6.0v2.6h-6.0zM506.5 242.9h6.0v2.6h-6.0zM512.2 245.3h6.0v2.6h-6.0zM523.7 250.1h6.0v2.6h-6.0zM552.3 278.9h6.0v2.6h-6.0zM558.1 283.7h6.0v2.6h-6.0zM563.8 286.1h6.0v2.6h-6.0zM563.8 305.3h6.0v2.6h-6.0zM569.5 290.9h6.0v2.6h-6.0zM575.3 293.3h6.0v2.6h-6.0zM575.3 312.5h6.0v2.6h-6.0zM581.0 295.7h6.0v2.6h-6.0zM586.7 300.5h6.0v2.6h-6.0zM592.5 302.9h6.0v2.6h-6.0zM592.5 322.1h6.0v2.6h-6.0zM598.2 305.3h6.0v2.6h-6.0zM603.9 310.1h6.0v2.6h-6.0zM603.9 329.3h6.0v2.6h-6.0zM609.7 314.9h6.0v2.6h-6.0zM615.4 317.3h6.0v2.6h-6.0zM615.4 336.5h6.0v2.6h-6.0zM621.1 322.1h6.0v2.6h-6.0zM626.9 324.5h6.0v2.6h-6.0zM626.9 343.7h6.0v2.6h-6.0zM632.6 326.9h6.0v2.6h-6.0zM638.3 329.3h6.0v2.6h-6.0zM638.3 350.9h6.0v2.6h-6.0zM644.1 331.7h6.0v2.6h-6.0zM644.1 353.3h6.0v2.6h-6.0zM649.8 334.1h6.0v5.0h-6.0zM649.8 355.7h6.0v2.6h-6.0zM655.5 336.5h6.0v5.0h-6.0zM655.5 358.1h6.0v2.6h-6.0zM661.3 338.9h6.0v7.4h-6.0zM661.3 360.5h6.0v2.6h-6.0zM667.0 343.7h6.0v5.0h-6.0zM667.0 360.5h6.0v2.6h-6.0zM672.7 343.7h6.0v7.4h-6.0zM672.7 360.5h6.0v2.6h-6.0zM678.5 348.5h6.0v5.0h-6.0zM678.5 360.5h6.0v2.6h-6.0zM684.2 350.9h6.0v12.2h-6.0zM689.9 353.3h6.0v9.8h-6.0zM695.7 355.7h6.0v5.0h-6.0zM712.9 326.9h6.0v2.6h-6.0zM718.6 324.5h6.0v7.4h-6.0zM724.3 322.1h6.0v9.8h-6.0zM730.1 319.7h6.0v14.6h-6.0zM735.8 319.7h6.0v2.6h-6.0zM735.8 326.9h6.0v5.0h-6.0zM741.5 317.3h6.0v5.0h-6.0zM741.5 326.9h6.0v5.0h-6.0zM747.3 317.3h6.0v2.6h-6.0zM747.3 329.3h6.0v2.6h-6.0zM753.0 314.9h3.7v5.0h-3.7zM753.0 329.3h3.7v2.6h-3.7z"/>
<path fill="#86d549" d="M151.0 199.7h6.0v12.2h-6.0zM156.7 202.1h6.0v9.8h-6.0zM162.5 204.5h6.0v5.0h-6.0zM242.7 228.5h6.0v7.4h-6.0zM248.5 233.3h6.0v2.6h-6.0zM248.5 242.9h6.0v5.0h-6.0zM254.2 235.7h6.0v2.6h-6.0zM254.2 252.5h6.0v2.6h-6.0zM265.7 245.3h6.0v2.6h-6.0zM265.7 259.7h6.0v2.6h-6.0zM271.4 252.5h6.0v2.6h-6.0zM271.4 264.5h6.0v2.6h-6.0zM277.1 257.3h6.0v2.6h-6.0zM277.1 269.3h6.0v2.6h-6.0zM282.9 262.1h6.0v2.6h-6.0zM282.9 274.1h6.0v2.6h-6.0zM288.6 266.9h6.0v2.6h-6.0zM294.3 269.3h6.0v2.6h-6.0zM294.3 281.3h6.0v2.6h-6.0zM300.1 274.1h6.0v2.6h-6.0zM300.1 286.1h6.0v2.6h-6.0zM305.8 278.9h6.0v2.6h-6.0zM305.8 290.9h6.0v2.6h-6.0zM311.5 281.3h6.0v2.6h-6.0zM311.5 293.3h6.0v2.6h-6.0zM317.3 295.7h6.0v2.6h-6.0zM323.0 286.1h6.0v2.6h-6.0zM323.0 298.1h6.0v2.6h-6.0zM328.7 288.5h6.0v2.6h-6.0zM328.7 298.1h6.0v2.6h-6.0zM334.5 300.5h6.0v2.6h-6.0zM340.2 290.9h6.0v2.6h-6.0zM340.2 300.5h6.0v2.6h-6.0zM345.9 302.9h6.0v2.6h-6.0zM351.7 293.3h6.0v2.6h-6.0zM351.7 302.9h6.0v2.6h-6.0zM357.4 293.3h6.0v2.6h-6.0zM363.1 305.3h6.0v2.6h-6.0zM368.9 305.3h6.0v2.6h-6.0zM374.6 293.3h6.0v2.6h-6.0zM380.3 290.9h6.0v2.6h-6.0zM380.3 302.9h6.0v2.6h-6.0zM386.1 288.5h6.0v2.6h-6.0zM391.8 283.7h6.0v2.6h-6.0zM397.5 295.7h6.0v2.6h-6.0zM414.7 266.9h6.0v2.6h-6.0zM420.5 281.3h6.0v2.6h-6.0zM426.2 278.9h6.0v2.6h-6.0zM431.9 276.5h6.0v2.6h-6.0zM449.1 252.5h6.0v2.6h-6.0zM454.9 250.1h6.0v2.6h-6.0zM460.6 264.5h6.0v2.6h-6.0zM466.3 247.7h6.0v2.6h-6.0zM477.8 245.3h6.0v2.6h-6.0zM483.5 259.7h6.0v2.6h-6.0zM489.3 242.9h6.0v2.6h-6.0zM495.0 242.9h6.0v2.6h-6.0zM500.7 242.9h6.0v2.6h-6.0zM500.7 259.7h6.0v2.6h-6.0zM517.9 247.7h6.0v2.6h-6.0zM535.1 276.5h6.0v2.6h-6.0zM540.9 266.9h6.0v2.6h-6.0zM546.6 274.1h6.0v2.6h-6.0zM552.3 281.3h6.0v2.6h-6.0zM558.1 300.5h6.0v2.6h-6.0zM563.8 288.5h6.0v2.6h-6.0zM575.3 295.7h6.0v2.6h-6.0zM581.0 298.1h6.0v2.6h-6.0zM581.0 314.9h6.0v2.6h-6.0zM586.7 302.9h6.0v2.6h-6.0zM586.7 317.3h6.0v2.6h-6.0zM592.5 305.3h6.0v2.6h-6.0zM598.2 307.7h6.0v2.6h-6.0zM598.2 324.5h6.0v2.6h-6.0zM603.9 312.5h6.0v2.6h-6.0zM609.7 317.3h6.0v2.6h-6.0zM609.7 331.7h6.0v2.6h-6.0zM615.4 319.7h6.0v5.0h-6.0zM621.1 324.5h6.0v2.6h-6.0zM621.1 338.9h6.0v2.6h-6.0zM626.9 326.9h6.0v2.6h-6.0zM632.6 329.3h6.0v2.6h-6.0zM632.6 346.1h6.0v2.6h-6.0zM638.3 331.7h6.0v2.6h-6.0zM638.3 348.5h6.0v2.6h-6.0zM644.1 334.1h6.0v2.6h-6.0zM644.1 350.9h6.0v2.6h-6.0zM649.8 338.9h6.0v2.6h-6.0zM655.5 341.3h6.0v5.0h-6.0zM655.5 355.7h6.0v2.6h-6.0zM661.3 346.1h6.0v7.4h-6.0zM661.3 355.7h6.0v5.0h-6.0zM667.0 348.5h6.0v12.2h-6.0zM672.7 350.9h6.0v9.8h-6.0zM678.5 353.3h6.0v7.4h-6.0zM735.8 322.1h6.0v5.0h-6.0zM741.5 322.1h6.0v5.0h-6.0zM747.3 319.7h6.0v9.8h-6.0zM753.0 319.7h3.7v9.8h-3.7z"/>
<path fill="#7ad151" d="M248.5 235.7h6.0v7.4h-6.0zM254.2 238.1h6.0v5.0h-6.0zM254.2 247.7h6.0v5.0h-6.0zM259.9 242.9h6.0v5.0h-6.0zM259.9 254.9h6.0v2.6h-6.0zM265.7 247.7h6.0v2.6h-6.0zM265.7 257.3h6.0v2.6h-6.0zM271.4 254.9h6.0v9.8h-6.0zM277.1 259.7h6.0v9.8h-6.0zM282.9 264.5h6.0v2.6h-6.0zM282.9 269.3h6.0v5.0h-6.0zM288.6 269.3h6.0v2.6h-6.0zM288.6 274.1h6.0v5.0h-6.0zM294.3 271.7h6.0v5.0h-6.0zM294.3 278.9h6.0v2.6h-6.0zM300.1 276.5h6.0v5.0h-6.0zM300.1 283.7h6.0v2.6h-6.0zM305.8 281.3h6.0v2.6h-6.0zM305.8 288.5h6.0v2.6h-6.0zM311.5 283.7h6.0v5.0h-6.0zM311.5 290.9h6.0v2.6h-6.0zM317.3 286.1h6.0v5.0h-6.0zM317.3 293.3h6.0v2.6h-6.0zM323.0 288.5h6.0v2.6h-6.0zM323.0 295.7h6.0v2.6h-6.0zM328.7 290.9h6.0v2.6h-6.0zM328.7 295.7h6.0v2.6h-6.0zM334.5 290.9h6.0v5.0h-6.0zM334.5 298.1h6.0v2.6h-6.0zM340.2 293.3h6.0v2.6h-6.0zM340.2 298.1h6.0v2.6h-6.0zM345.9 293.3h6.0v5.0h-6.0zM345.9 300.5h6.0v2.6h-6.0zM351.7 295.7h6.0v2.6h-6.0zM351.7 300.5h6.0v2.6h-6.0zM357.4 295.7h6.0v2.6h-6.0zM357.4 302.9h6.0v2.6h-6.0zM363.1 295.7h6.0v2.6h-6.0zM363.1 302.9h6.0v2.6h-6.0zM368.9 295.7h6.0v2.6h-6.0zM368.9 302.9h6.0v2.6h-6.0zM374.6 295.7h6.0v2.6h-6.0zM374.6 302.9h6.0v2.6h-6.0zM386.1 300.5h6.0v2.6h-6.0zM391.8 298.1h6.0v2.6h-6.0zM403.3 276.5h6.0v2.6h-6.0zM403.3 290.9h6.0v2.6h-6.0zM409.0 271.7h6.0v2.6h-6.0zM414.7 283.7h6.0v2.6h-6.0zM420.5 264.5h6.0v2.6h-6.0zM426.2 262.1h6.0v2.6h-6.0zM431.9 259.7h6.0v2.6h-6.0zM437.7 257.3h6.0v2.6h-6.0zM443.4 254.9h6.0v2.6h-6.0zM460.6 250.1h6.0v2.6h-6.0zM466.3 262.1h6.0v2.6h-6.0zM472.1 247.7h6.0v2.6h-6.0zM506.5 245.3h6.0v2.6h-6.0zM523.7 252.5h6.0v2.6h-6.0zM523.7 266.9h6.0v2.6h-6.0zM529.4 257.3h6.0v2.6h-6.0zM535.1 262.1h6.0v2.6h-6.0zM552.3 295.7h6.0v2.6h-6.0zM558.1 286.1h6.0v2.6h-6.0zM563.8 290.9h6.0v2.6h-6.0zM569.5 293.3h6.0v2.6h-6.0zM569.5 307.7h6.0v2.6h-6.0zM575.3 298.1h6.0v2.6h-6.0zM581.0 300.5h6.0v2.6h-6.0zM586.7 305.3h6.0v2.6h-6.0zM592.5 307.7h6.0v2.6h-6.0zM592.5 319.7h6.0v2.6h-6.0zM598.2 310.1h6.0v5.0h-6.0zM598.2 322.1h6.0v2.6h-6.0zM603.9 314.9h6.0v5.0h-6.0zM603.9 326.9h6.0v2.6h-6.0zM609.7 319.7h6.0v5.0h-6.0zM609.7 329.3h6.0v2.6h-6.0zM615.4 324.5h6.0v5.0h-6.0zM615.4 331.7h6.0v5.0h-6.0zM621.1 326.9h6.0v5.0h-6.0zM621.1 336.5h6.0v2.6h-6.0zM626.9 329.3h6.0v5.0h-6.0zM626.9 341.3h6.0v2.6h-6.0zM632.6 331.7h6.0v2.6h-6.0zM632.6 343.7h6.0v2.6h-6.0zM638.3 334.1h6.0v5.0h-6.0zM638.3 346.1h6.0v2.6h-6.0zM644.1 336.5h6.0v7.4h-6.0zM644.1 348.5h6.0v2.6h-6.0zM649.8 341.3h6.0v14.6h-6.0zM655.5 346.1h6.0v9.8h-6.0zM661.3 353.3h6.0v2.6h-6.0z"/>
<path fill="#70cf57" d="M254.2 242.9h6.0v5.0h-6.0zM259.9 247.7h6.0v7.4h-6.0zM265.7 250.1h6.0v7.4h-6.0zM282.9 266.9h6.0v2.6h-6.0zM288.6 271.7h6.0v2.6h-6.0zM294.3 276.5h6.0v2.6h-6.0zM300.1 281.3h6.0v2.6h-6.0zM305.8 283.7h6.0v5.0h-6.0zM311.5 288.5h6.0v2.6h-6.0zM317.3 290.9h6.0v2.6h-6.0zM323.0 290.9h6.0v5.0h-6.0zM328.7 293.3h6.0v2.6h-6.0zM334.5 295.7h6.0v2.6h-6.0zM340.2 295.7h6.0v2.6h-6.0zM345.9 298.1h6.0v2.6h-6.0zM351.7 298.1h6.0v2.6h-6.0zM357.4 298.1h6.0v5.0h-6.0zM363.1 298.1h6.0v5.0h-6.0zM368.9 298.1h6.0v5.0h-6.0zM374.6 298.1h6.0v5.0h-6.0zM380.3 293.3h6.0v5.0h-6.0zM380.3 300.5h6.0v2.6h-6.0zM386.1 290.9h6.0v2.6h-6.0zM391.8 286.1h6.0v2.6h-6.0zM397.5 281.3h6.0v2.6h-6.0zM409.0 286.1h6.0v2.6h-6.0zM414.7 269.3h6.0v2.6h-6.0zM449.1 254.9h6.0v2.6h-6.0zM454.9 252.5h6.0v2.6h-6.0zM454.9 264.5h6.0v2.6h-6.0zM466.3 250.1h6.0v2.6h-6.0zM477.8 259.7h6.0v2.6h-6.0zM483.5 245.3h6.0v2.6h-6.0zM489.3 245.3h6.0v2.6h-6.0zM500.7 245.3h6.0v2.6h-6.0zM512.2 247.7h6.0v2.6h-6.0zM512.2 262.1h6.0v2.6h-6.0zM540.9 281.3h6.0v2.6h-6.0zM546.6 276.5h6.0v2.6h-6.0zM546.6 288.5h6.0v2.6h-6.0zM563.8 302.9h6.0v2.6h-6.0zM569.5 295.7h6.0v2.6h-6.0zM575.3 300.5h6.0v2.6h-6.0zM575.3 310.1h6.0v2.6h-6.0zM581.0 302.9h6.0v2.6h-6.0zM581.0 312.5h6.0v2.6h-6.0zM586.7 307.7h6.0v2.6h-6.0zM586.7 314.9h6.0v2.6h-6.0zM592.5 310.1h6.0v9.8h-6.0zM598.2 314.9h6.0v7.4h-6.0zM603.9 319.7h6.0v7.4h-6.0zM609.7 324.5h6.0v5.0h-6.0zM615.4 329.3h6.0v2.6h-6.0zM621.1 331.7h6.0v5.0h-6.0zM626.9 334.1h6.0v7.4h-6.0zM632.6 334.1h6.0v9.8h-6.0zM638.3 338.9h6.0v7.4h-6.0zM644.1 343.7h6.0v5.0h-6.0z"/>
<path fill="#67cc5c" d="M380.3 298.1h6.0v2.6h-6.0zM386.1 293.3h6.0v7.4h-6.0zM391.8 288.5h6.0v2.6h-6.0zM391.8 295.7h6.0v2.6h-6.0zM397.5 293.3h6.0v2.6h-6.0zM409.0 274.1h6.0v2.6h-6.0zM420.5 266.9h6.0v2.6h-6.0zM420.5 278.9h6.0v2.6h-6.0zM426.2 264.5h6.0v2.6h-6.0zM426.2 276.5h6.0v2.6h-6.0zM431.9 262.1h6.0v2.6h-6.0zM431.9 274.1h6.0v2.6h-6.0zM437.7 259.7h6.0v2.6h-6.0zM437.7 271.7h6.0v2.6h-6.0zM443.4 257.3h6.0v2.6h-6.0zM443.4 269.3h6.0v2.6h-6.0zM449.1 266.9h6.0v2.6h-6.0zM454.9 254.9h6.0v2.6h-6.0zM460.6 252.5h6.0v2.6h-6.0zM460.6 262.1h6.0v2.6h-6.0zM472.1 259.7h6.0v2.6h-6.0zM477.8 247.7h6.0v2.6h-6.0zM495.0 245.3h6.0v2.6h-6.0zM517.9 250.1h6.0v2.6h-6.0zM540.9 269.3h6.0v2.6h-6.0zM552.3 283.7h6.0v2.6h-6.0zM558.1 288.5h6.0v2.6h-6.0zM563.8 293.3h6.0v2.6h-6.0zM569.5 298.1h6.0v2.6h-6.0zM569.5 305.3h6.0v2.6h-6.0zM575.3 302.9h6.0v2.6h-6.0zM575.3 307.7h6.0v2.6h-6.0zM581.0 305.3h6.0v7.4h-6.0zM586.7 310.1h6.0v5.0h-6.0z"/>
<path fill="#5cc863" d="M391.8 290.9h6.0v5.0h-6.0zM397.5 283.7h6.0v2.6h-6.0zM397.5 290.9h6.0v2.6h-6.0zM403.3 278.9h6.0v2.6h-6.0zM403.3 288.5h6.0v2.6h-6.0zM414.7 271.7h6.0v2.6h-6.0zM414.7 281.3h6.0v2.6h-6.0zM443.4 259.7h6.0v2.6h-6.0zM449.1 257.3h6.0v2.6h-6.0zM454.9 257.3h6.0v2.6h-6.0zM460.6 254.9h6.0v2.6h-6.0zM466.3 252.5h6.0v2.6h-6.0zM472.1 250.1h6.0v2.6h-6.0zM506.5 259.7h6.0v2.6h-6.0zM529.4 259.7h6.0v2.6h-6.0zM535.1 264.5h6.0v2.6h-6.0zM558.1 298.1h6.0v2.6h-6.0zM563.8 295.7h6.0v2.6h-6.0zM569.5 300.5h6.0v5.0h-6.0zM575.3 305.3h6.0v2.6h-6.0z"/>
<path fill="#54c568" d="M397.5 286.1h6.0v5.0h-6.0zM403.3 281.3h6.0v2.6h-6.0zM409.0 276.5h6.0v2.6h-6.0zM409.0 283.7h6.0v2.6h-6.0zM420.5 269.3h6.0v2.6h-6.0zM426.2 266.9h6.0v2.6h-6.0zM426.2 274.1h6.0v2.6h-6.0zM431.9 264.5h6.0v2.6h-6.0zM431.9 271.7h6.0v2.6h-6.0zM437.7 262.1h6.0v2.6h-6.0zM437.7 269.3h6.0v2.6h-6.0zM443.4 262.1h6.0v2.6h-6.0zM443.4 266.9h6.0v2.6h-6.0zM449.1 259.7h6.0v7.4h-6.0zM454.9 259.7h6.0v5.0h-6.0zM460.6 257.3h6.0v5.0h-6.0zM466.3 254.9h6.0v2.6h-6.0zM466.3 259.7h6.0v2.6h-6.0zM483.5 247.7h6.0v2.6h-6.0zM506.5 247.7h6.0v2.6h-6.0zM523.7 254.9h6.0v2.6h-6.0zM546.6 278.9h6.0v2.6h-6.0zM552.3 286.1h6.0v2.6h-6.0zM552.3 293.3h6.0v2.6h-6.0zM558.1 290.9h6.0v2.6h-6.0zM563.8 298.1h6.0v5.0h-6.0z"/>
<path fill="#4cc26c" d="M403.3 283.7h6.0v5.0h-6.0zM409.0 278.9h6.0v5.0h-6.0zM414.7 274.1h6.0v2.6h-6.0zM414.7 278.9h6.0v2.6h-6.0zM420.5 271.7h6.0v2.6h-6.0zM420.5 276.5h6.0v2.6h-6.0zM426.2 269.3h6.0v5.0h-6.0zM431.9 266.9h6.0v5.0h-6.0zM437.7 264.5h6.0v5.0h-6.0zM443.4 264.5h6.0v2.6h-6.0zM466.3 257.3h6.0v2.6h-6.0zM472.1 252.5h6.0v2.6h-6.0zM477.8 250.1h6.0v2.6h-6.0zM483.5 257.3h6.0v2.6h-6.0zM489.3 247.7h6.0v2.6h-6.0zM489.3 257.3h6.0v2.6h-6.0zM495.0 247.7h6.0v2.6h-6.0zM495.0 257.3h6.0v2.6h-6.0zM500.7 247.7h6.0v2.6h-6.0zM512.2 250.1h6.0v2.6h-6.0zM535.1 274.1h6.0v2.6h-6.0zM540.9 271.7h6.0v2.6h-6.0zM546.6 286.1h6.0v2.6h-6.0zM558.1 293.3h6.0v5.0h-6.0z"/>
<path fill="#44bf70" d="M414.7 276.5h6.0v2.6h-6.0zM420.5 274.1h6.0v2.6h-6.0zM472.1 254.9h6.0v5.0h-6.0zM477.8 257.3h6.0v2.6h-6.0zM517.9 252.5h6.0v2.6h-6.0zM540.9 278.9h6.0v2.6h-6.0zM552.3 288.5h6.0v5.0h-6.0z"/>
<path fill="#3bbb75" d="M477.8 252.5h6.0v2.6h-6.0zM483.5 250.1h6.0v2.6h-6.0zM500.7 257.3h6.0v2.6h-6.0zM517.9 262.1h6.0v2.6h-6.0zM529.4 269.3h6.0v2.6h-6.0zM535.1 266.9h6.0v2.6h-6.0zM546.6 281.3h6.0v5.0h-6.0z"/>
<path fill="#35b779" d="M477.8 254.9h6.0v2.6h-6.0zM489.3 250.1h6.0v2.6h-6.0zM506.5 250.1h6.0v2.6h-6.0zM523.7 264.5h6.0v2.6h-6.0zM529.4 262.1h6.0v2.6h-6.0zM540.9 274.1h6.0v2.6h-6.0z"/>
<path fill="#2fb47c" d="M483.5 252.5h6.0v5.0h-6.0zM500.7 250.1h6.0v2.6h-6.0zM512.2 259.7h6.0v2.6h-6.0zM523.7 257.3h6.0v2.6h-6.0zM540.9 276.5h6.0v2.6h-6.0z"/>
<path fill="#2ab07f" d="M489.3 254.9h6.0v2.6h-6.0zM495.0 250.1h6.0v2.6h-6.0zM512.2 252.5h6.0v2.6h-6.0zM517.9 254.9h6.0v2.6h-6.0zM535.1 269.3h6.0v5.0h-6.0z"/>
<path fill="#25ac82" d="M489.3 252.5h6.0v2.6h-6.0zM506.5 257.3h6.0v2.6h-6.0zM529.4 264.5h6.0v2.6h-6.0z"/>
<path fill="#22a884" d="M495.0 252.5h6.0v5.0h-6.0zM506.5 252.5h6.0v2.6h-6.0zM529.4 266.9h6.0v2.6h-6.0z"/>
<path fill="#20a486" d="M500.7 252.5h6.0v5.0h-6.0zM517.9 259.7h6.0v2.6h-6.0zM523.7 259.7h6.0v5.0h-6.0z"/>
<path fill="#1fa188" d="M506.5 254.9h6.0v2.6h-6.0zM512.2 254.9h6.0v2.6h-6.0zM517.9 257.3h6.0v2.6h-6.0z"/>
<path fill="#1e9c89" d="M512.2 257.3h6.0v2.6h-6.0z"/></g>
<polyline points="260.9,160.1 313.0,174.3 337.8,205.7 398.5,228.5 501.6,175.7 514.2,172.1 535.0,182.9 550.0,212.9 594.2,228.5 611.5,272.9 756.5,250.0" fill="none" stroke="#5c5c5c" stroke-width="3.2" stroke-linejoin="round"/>
<polyline points="260.9,343.7 296.0,340.6 352.6,340.6 398.5,346.6 427.5,333.4 471.2,297.3 509.8,279.1 519.7,279.1 531.8,298.1 565.6,333.5 577.7,339.5 595.0,329.6 617.5,366.5 641.7,384.5 665.1,390.5 694.4,390.5 718.6,384.5 746.5,384.5 756.5,385.7" fill="none" stroke="#5c5c5c" stroke-width="3.2" stroke-linejoin="round"/>
<path d="M154.5 60.5 V420.5 M181.5 60.5 V420.5 M200.5 60.5 V420.5 M215.5 60.5 V420.5 M227.5 60.5 V420.5 M237.5 60.5 V420.5 M246.5 60.5 V420.5 M253.5 60.5 V420.5 M260.5 60.5 V420.5 M306.5 60.5 V420.5 M333.5 60.5 V420.5 M352.5 60.5 V420.5 M367.5 60.5 V420.5 M379.5 60.5 V420.5 M389.5 60.5 V420.5 M398.5 60.5 V420.5 M406.5 60.5 V420.5 M413.5 60.5 V420.5 M459.5 60.5 V420.5 M485.5 60.5 V420.5 M504.5 60.5 V420.5 M519.5 60.5 V420.5 M531.5 60.5 V420.5 M542.5 60.5 V420.5 M550.5 60.5 V420.5 M558.5 60.5 V420.5 M565.5 60.5 V420.5 M611.5 60.5 V420.5 M638.5 60.5 V420.5 M657.5 60.5 V420.5 M672.5 60.5 V420.5 M684.5 60.5 V420.5 M694.5 60.5 V420.5 M703.5 60.5 V420.5 M711.5 60.5 V420.5 M717.5 60.5 V420.5 M108.5 84.5 H756.5 M108.5 132.5 H756.5 M108.5 180.5 H756.5 M108.5 228.5 H756.5 M108.5 276.5 H756.5 M108.5 324.5 H756.5 M108.5 372.5 H756.5" stroke="#b0b0b0" stroke-width="1" fill="none" shape-rendering="crispEdges"/>
</g>
<rect x="108.5" y="60.5" width="648" height="360" fill="none" stroke="#000" stroke-width="1" shape-rendering="crispEdges"/>
<path d="M108 84.5 h-4.5 M108 132.5 h-4.5 M108 180.5 h-4.5 M108 228.5 h-4.5 M108 276.5 h-4.5 M108 324.5 h-4.5 M108 372.5 h-4.5 M108 420.5 h-4.5 M108.5 421 v4.5 M154.5 421 v2.5 M181.5 421 v2.5 M200.5 421 v2.5 M215.5 421 v2.5 M227.5 421 v2.5 M237.5 421 v2.5 M246.5 421 v2.5 M253.5 421 v2.5 M260.5 421 v4.5 M306.5 421 v2.5 M333.5 421 v2.5 M352.5 421 v2.5 M367.5 421 v2.5 M379.5 421 v2.5 M389.5 421 v2.5 M398.5 421 v2.5 M406.5 421 v2.5 M413.5 421 v4.5 M459.5 421 v2.5 M485.5 421 v2.5 M504.5 421 v2.5 M519.5 421 v2.5 M531.5 421 v2.5 M542.5 421 v2.5 M550.5 421 v2.5 M558.5 421 v2.5 M565.5 421 v4.5 M611.5 421 v2.5 M638.5 421 v2.5 M657.5 421 v2.5 M672.5 421 v2.5 M684.5 421 v2.5 M694.5 421 v2.5 M703.5 421 v2.5 M711.5 421 v2.5 M717.5 421 v4.5" stroke="#000" stroke-width="1" fill="none" shape-rendering="crispEdges"/>
<text x="97.7" y="89.7" text-anchor="end" textLength="29.3" lengthAdjust="spacingAndGlyphs">−60</text>
<text x="97.7" y="137.7" text-anchor="end" textLength="29.3" lengthAdjust="spacingAndGlyphs">−80</text>
<text x="97.7" y="185.7" text-anchor="end" textLength="38.1" lengthAdjust="spacingAndGlyphs">−100</text>
<text x="97.7" y="233.7" text-anchor="end" textLength="38.1" lengthAdjust="spacingAndGlyphs">−120</text>
<text x="97.7" y="281.7" text-anchor="end" textLength="38.1" lengthAdjust="spacingAndGlyphs">−140</text>
<text x="97.7" y="329.7" text-anchor="end" textLength="38.1" lengthAdjust="spacingAndGlyphs">−160</text>
<text x="97.7" y="377.7" text-anchor="end" textLength="38.1" lengthAdjust="spacingAndGlyphs">−180</text>
<text x="97.7" y="425.7" text-anchor="end" textLength="38.1" lengthAdjust="spacingAndGlyphs">−200</text>
<text x="108.5" y="440.5" text-anchor="middle" textLength="30.9" lengthAdjust="spacingAndGlyphs">0.01</text>
<text x="260.9" y="440.5" text-anchor="middle" textLength="22.1" lengthAdjust="spacingAndGlyphs">0.1</text>
<text x="413.2" y="440.5" text-anchor="middle" textLength="8.8" lengthAdjust="spacingAndGlyphs">1</text>
<text x="565.6" y="440.5" text-anchor="middle" textLength="17.7" lengthAdjust="spacingAndGlyphs">10</text>
<text x="718.0" y="440.5" text-anchor="middle" textLength="26.5" lengthAdjust="spacingAndGlyphs">100</text>
<text x="399.2" y="460.4" textLength="43.2" lengthAdjust="spacingAndGlyphs">Period</text><text x="446.8" y="460.4" textLength="18.0" lengthAdjust="spacingAndGlyphs">[s]</text>
<text x="112.0" y="51.7" textLength="112.9" lengthAdjust="spacingAndGlyphs">1Y.GR15.00.HHZ</text><text x="229.2" y="51.7" textLength="4.6" lengthAdjust="spacingAndGlyphs">|</text><text x="238.3" y="51.7" textLength="57.0" lengthAdjust="spacingAndGlyphs">100.0Hz</text><text x="299.6" y="51.7" textLength="4.6" lengthAdjust="spacingAndGlyphs">|</text><text x="308.6" y="51.7" textLength="150.2" lengthAdjust="spacingAndGlyphs">2024-12-14T00:00:03</text><text x="463.2" y="51.7" textLength="5.0" lengthAdjust="spacingAndGlyphs">-</text><text x="472.5" y="51.7" textLength="150.2" lengthAdjust="spacingAndGlyphs">2025-12-12T23:00:02</text><text x="627.1" y="51.7" textLength="4.6" lengthAdjust="spacingAndGlyphs">|</text><text x="636.1" y="51.7" textLength="43.8" lengthAdjust="spacingAndGlyphs">15999</text><text x="684.3" y="51.7" textLength="67.5" lengthAdjust="spacingAndGlyphs">segments</text>
<g transform="translate(46.7,240) rotate(-90)"><text x="-90.0" y="0" textLength="70.0" lengthAdjust="spacingAndGlyphs">Amplitude</text><text x="-16.9" y="0" textLength="4.6" lengthAdjust="spacingAndGlyphs">[</text><text x="-11.0" y="0" textLength="11.8" lengthAdjust="spacingAndGlyphs" font-style="italic">m</text><text x="2.0" y="0" textLength="5.5" lengthAdjust="spacingAndGlyphs" font-size="9.7px" transform="translate(0,-5.2)">2</text><text x="8.0" y="0" textLength="5.5" lengthAdjust="spacingAndGlyphs" font-style="italic">/</text><text x="14.0" y="0" textLength="7.0" lengthAdjust="spacingAndGlyphs" font-style="italic">s</text><text x="22.0" y="0" textLength="5.5" lengthAdjust="spacingAndGlyphs" font-size="9.7px" transform="translate(0,-5.2)">4</text><text x="27.5" y="0" textLength="5.5" lengthAdjust="spacingAndGlyphs" font-style="italic">/</text><text x="34.0" y="0" textLength="15.0" lengthAdjust="spacingAndGlyphs" font-style="italic">Hz</text><text x="50.3" y="0" textLength="4.2" lengthAdjust="spacingAndGlyphs">]</text><text x="61.7" y="0" textLength="28.3" lengthAdjust="spacingAndGlyphs">[dB]</text></g>
<defs><linearGradient id="cb" x1="0" y1="0" x2="0" y2="1"><stop offset="0.000" stop-color="#440154"/><stop offset="0.050" stop-color="#471365"/><stop offset="0.100" stop-color="#482475"/><stop offset="0.150" stop-color="#463480"/><stop offset="0.200" stop-color="#414487"/><stop offset="0.250" stop-color="#3b518b"/><stop offset="0.300" stop-color="#355f8d"/><stop offset="0.350" stop-color="#2f6c8e"/><stop offset="0.400" stop-color="#2a788e"/><stop offset="0.450" stop-color="#25848e"/><stop offset="0.500" stop-color="#21908d"/><stop offset="0.550" stop-color="#1e9c89"/><stop offset="0.600" stop-color="#22a884"/><stop offset="0.650" stop-color="#2fb47c"/><stop offset="0.700" stop-color="#44bf70"/><stop offset="0.750" stop-color="#5cc863"/><stop offset="0.800" stop-color="#7ad151"/><stop offset="0.850" stop-color="#9bd93c"/><stop offset="0.900" stop-color="#bddf26"/><stop offset="0.950" stop-color="#dfe318"/><stop offset="1.000" stop-color="#fde725"/></linearGradient></defs>
<rect x="797.5" y="60.5" width="18" height="360" fill="url(#cb)" stroke="#000" stroke-width="1" shape-rendering="crispEdges"/>
<text x="824.4" y="425.7" text-anchor="start" textLength="8.8" lengthAdjust="spacingAndGlyphs">0</text>
<text x="824.4" y="365.7" text-anchor="start" textLength="8.8" lengthAdjust="spacingAndGlyphs">5</text>
<text x="824.4" y="305.7" text-anchor="start" textLength="17.7" lengthAdjust="spacingAndGlyphs">10</text>
<text x="824.4" y="245.7" text-anchor="start" textLength="17.7" lengthAdjust="spacingAndGlyphs">15</text>
<text x="824.4" y="185.7" text-anchor="start" textLength="17.7" lengthAdjust="spacingAndGlyphs">20</text>
<text x="824.4" y="125.7" text-anchor="start" textLength="17.7" lengthAdjust="spacingAndGlyphs">25</text>
<text x="824.4" y="65.7" text-anchor="start" textLength="17.7" lengthAdjust="spacingAndGlyphs">30</text>
<path d="M816 420.5 h4.5 M816 360.5 h4.5 M816 300.5 h4.5 M816 240.5 h4.5 M816 180.5 h4.5 M816 120.5 h4.5 M816 60.5 h4.5" stroke="#000" stroke-width="1" fill="none" shape-rendering="crispEdges"/>
<g transform="translate(858.3,242.3) rotate(-90)"><text x="0.0" y="0.0" text-anchor="middle" textLength="21.8" lengthAdjust="spacingAndGlyphs" font-size="13.4px">[%]</text></g>
<g shape-rendering="crispEdges">
<rect x="164.2" y="474.2" width="570.8" height="9.6" fill="#008000"/>
<rect x="165.3" y="483.8" width="570.5" height="14.5" fill="#0000ff"/>
<rect x="525.0" y="474.2" width="1.0" height="24.1" fill="#fff"/>
<rect x="596.0" y="474.2" width="1.0" height="24.1" fill="#fff"/>
<rect x="600.0" y="474.2" width="1.0" height="24.1" fill="#fff"/>
<rect x="602.8" y="474.2" width="6.5" height="24.1" fill="#fff"/>
<rect x="611.0" y="474.2" width="16.0" height="24.1" fill="#fff"/>
<rect x="699.7" y="474.2" width="2.3" height="24.1" fill="#fff"/>
<rect x="724.2" y="474.2" width="1.0" height="24.1" fill="#fff"/>
<rect x="732.8" y="474.2" width="2.2" height="24.1" fill="#fff"/>
<rect x="535.0" y="483.8" width="1.0" height="14.5" fill="#fff"/>
<rect x="637.2" y="483.8" width="1.0" height="14.5" fill="#fff"/>
<rect x="728.0" y="483.8" width="1.0" height="14.5" fill="#fff"/>
</g>
<rect x="135.5" y="474.5" width="630" height="24" fill="none" stroke="#000" stroke-width="1" shape-rendering="crispEdges"/>
<g transform="translate(191.4,516.6) rotate(-30)"><text x="0.0" y="0.0" text-anchor="end" textLength="57.5" lengthAdjust="spacingAndGlyphs">2025-01</text></g>
<g transform="translate(284.0,516.6) rotate(-30)"><text x="0.0" y="0.0" text-anchor="end" textLength="57.5" lengthAdjust="spacingAndGlyphs">2025-03</text></g>
<g transform="translate(379.7,516.6) rotate(-30)"><text x="0.0" y="0.0" text-anchor="end" textLength="57.5" lengthAdjust="spacingAndGlyphs">2025-05</text></g>
<g transform="translate(475.4,516.6) rotate(-30)"><text x="0.0" y="0.0" text-anchor="end" textLength="57.5" lengthAdjust="spacingAndGlyphs">2025-07</text></g>
<g transform="translate(572.7,516.6) rotate(-30)"><text x="0.0" y="0.0" text-anchor="end" textLength="57.5" lengthAdjust="spacingAndGlyphs">2025-09</text></g>
<g transform="translate(668.4,516.6) rotate(-30)"><text x="0.0" y="0.0" text-anchor="end" textLength="57.5" lengthAdjust="spacingAndGlyphs">2025-11</text></g>
<path d="M193.5 499 v4.5 M286.5 499 v4.5 M382.5 499 v4.5 M477.5 499 v4.5 M575.5 499 v4.5 M670.5 499 v4.5" stroke="#000" stroke-width="1" fill="none" shape-rendering="crispEdges"/>
<rect x="0" y="577" width="900" height="23" fill="#808080"/>
<text x="9.3" y="595.0" textLength="73.4" lengthAdjust="spacingAndGlyphs" fill="#fff">Generated</text><text x="87.1" y="595.0" textLength="17.0" lengthAdjust="spacingAndGlyphs" fill="#fff">by</text><text x="108.4" y="595.0" textLength="62.3" lengthAdjust="spacingAndGlyphs" fill="#fff">SeedPSD</text><text x="175.2" y="595.0" textLength="17.2" lengthAdjust="spacingAndGlyphs" fill="#fff">on</text><text x="196.8" y="595.0" textLength="80.4" lengthAdjust="spacingAndGlyphs" fill="#fff">2025-12-14</text><text x="281.6" y="595.0" textLength="4.7" lengthAdjust="spacingAndGlyphs" fill="#fff">|</text><text x="290.6" y="595.0" textLength="84.4" lengthAdjust="spacingAndGlyphs" fill="#fff">Calculations</text><text x="379.4" y="595.0" textLength="57.5" lengthAdjust="spacingAndGlyphs" fill="#fff">updated</text><text x="441.3" y="595.0" textLength="17.2" lengthAdjust="spacingAndGlyphs" fill="#fff">on</text><text x="462.9" y="595.0" textLength="80.4" lengthAdjust="spacingAndGlyphs" fill="#fff">2025-12-13</text>
</svg>
</body></html>
